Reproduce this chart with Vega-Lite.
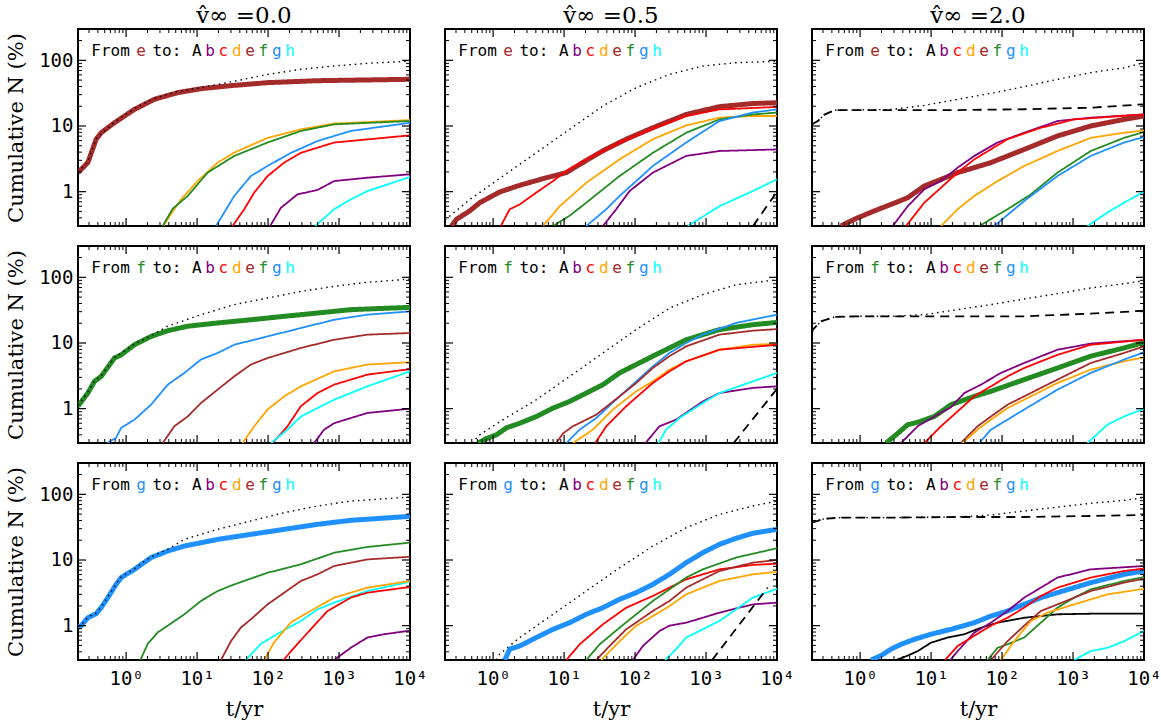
{
"$schema": "https://vega.github.io/schema/vega-lite/v6.json",
"background": "white",
"padding": {"left": 4, "top": 4, "right": 0, "bottom": 0},
"autosize": {"type": "pad"},
"config": {
  "view": {"stroke": "black", "strokeWidth": 2},
  "axis": {"domain": false, "grid": false, "ticks": false, "labelFont": "DejaVu Sans Mono", "labelFontSize": 19, "labelColor": "black", "titleFont": "DejaVu Serif", "titleFontSize": 21, "titleFontWeight": "normal", "titleColor": "black", "labelFlush": false, "labelOverlap": false},
  "title": {"font": "DejaVu Serif", "fontSize": 23, "fontWeight": "normal", "color": "black", "offset": 1}
},
"datasets": {
"xM": [{"v":1},{"v":10},{"v":100},{"v":1000},{"v":10000}],
"xm": [{"v":0.3},{"v":0.4},{"v":0.5},{"v":0.6},{"v":0.7},{"v":0.8},{"v":0.9},{"v":2},{"v":3},{"v":4},{"v":5},{"v":6},{"v":7},{"v":8},{"v":9},{"v":20},{"v":30},{"v":40},{"v":50},{"v":60},{"v":70},{"v":80},{"v":90},{"v":200},{"v":300},{"v":400},{"v":500},{"v":600},{"v":700},{"v":800},{"v":900},{"v":2000},{"v":3000},{"v":4000},{"v":5000},{"v":6000},{"v":7000},{"v":8000},{"v":9000}],
"yM": [{"v":1},{"v":10},{"v":100}],
"ym": [{"v":0.4},{"v":0.5},{"v":0.6},{"v":0.7},{"v":0.8},{"v":0.9},{"v":2},{"v":3},{"v":4},{"v":5},{"v":6},{"v":7},{"v":8},{"v":9},{"v":20},{"v":30},{"v":40},{"v":50},{"v":60},{"v":70},{"v":80},{"v":90},{"v":200}],
"notes": [
{"r":"e","lab":"From","s":"A","t":0.605,"n":140},{"r":"e","lab":"e","s":"e","t":1.626,"n":140},{"r":"e","lab":"to:","s":"A","t":3.753,"n":140},{"r":"e","lab":"A","s":"A","t":9.92,"n":140},{"r":"e","lab":"b","s":"b","t":15.28,"n":140},{"r":"e","lab":"c","s":"c","t":23.5,"n":140},{"r":"e","lab":"d","s":"d","t":36.2,"n":140},{"r":"e","lab":"e","s":"e","t":55.8,"n":140},{"r":"e","lab":"f","s":"f","t":85.9,"n":140},{"r":"e","lab":"g","s":"g","t":132.4,"n":140},{"r":"e","lab":"h","s":"h","t":204,"n":140},
{"r":"f","lab":"From","s":"A","t":0.605,"n":140},{"r":"f","lab":"f","s":"f","t":1.626,"n":140},{"r":"f","lab":"to:","s":"A","t":3.753,"n":140},{"r":"f","lab":"A","s":"A","t":9.92,"n":140},{"r":"f","lab":"b","s":"b","t":15.28,"n":140},{"r":"f","lab":"c","s":"c","t":23.5,"n":140},{"r":"f","lab":"d","s":"d","t":36.2,"n":140},{"r":"f","lab":"e","s":"e","t":55.8,"n":140},{"r":"f","lab":"f","s":"f","t":85.9,"n":140},{"r":"f","lab":"g","s":"g","t":132.4,"n":140},{"r":"f","lab":"h","s":"h","t":204,"n":140},
{"r":"g","lab":"From","s":"A","t":0.605,"n":140},{"r":"g","lab":"g","s":"g","t":1.626,"n":140},{"r":"g","lab":"to:","s":"A","t":3.753,"n":140},{"r":"g","lab":"A","s":"A","t":9.92,"n":140},{"r":"g","lab":"b","s":"b","t":15.28,"n":140},{"r":"g","lab":"c","s":"c","t":23.5,"n":140},{"r":"g","lab":"d","s":"d","t":36.2,"n":140},{"r":"g","lab":"e","s":"e","t":55.8,"n":140},{"r":"g","lab":"f","s":"f","t":85.9,"n":140},{"r":"g","lab":"g","s":"g","t":132.4,"n":140},{"r":"g","lab":"h","s":"h","t":204,"n":140}
],
"lines": [
{"r":"e","c":"0.0","s":"e","t":0.21,"n":1.95},{"r":"e","c":"0.0","s":"e","t":0.289,"n":2.77},{"r":"e","c":"0.0","s":"e","t":0.378,"n":6.27},{"r":"e","c":"0.0","s":"e","t":0.445,"n":7.9},{"r":"e","c":"0.0","s":"e","t":0.685,"n":11.2},{"r":"e","c":"0.0","s":"e","t":1.31,"n":17.9},{"r":"e","c":"0.0","s":"e","t":2.5,"n":25.5},{"r":"e","c":"0.0","s":"e","t":5.33,"n":32.2},{"r":"e","c":"0.0","s":"e","t":11.35,"n":37},{"r":"e","c":"0.0","s":"e","t":33.4,"n":41.6},{"r":"e","c":"0.0","s":"e","t":98.4,"n":45.7},{"r":"e","c":"0.0","s":"e","t":497,"n":49},{"r":"e","c":"0.0","s":"e","t":10000,"n":51.4},
{"r":"e","c":"0.0","s":"tot","t":0.21,"n":2.0},{"r":"e","c":"0.0","s":"tot","t":0.289,"n":2.85},{"r":"e","c":"0.0","s":"tot","t":0.378,"n":6.4},{"r":"e","c":"0.0","s":"tot","t":0.685,"n":11.5},{"r":"e","c":"0.0","s":"tot","t":1.31,"n":18.4},{"r":"e","c":"0.0","s":"tot","t":2.5,"n":26.3},{"r":"e","c":"0.0","s":"tot","t":5.33,"n":33.5},{"r":"e","c":"0.0","s":"tot","t":10.2,"n":37.5},{"r":"e","c":"0.0","s":"tot","t":33.4,"n":48},{"r":"e","c":"0.0","s":"tot","t":98.4,"n":61},{"r":"e","c":"0.0","s":"tot","t":290,"n":73},{"r":"e","c":"0.0","s":"tot","t":853,"n":82},{"r":"e","c":"0.0","s":"tot","t":2510,"n":90},{"r":"e","c":"0.0","s":"tot","t":10000,"n":97},
{"r":"e","c":"0.0","s":"d","t":3.35,"n":0.3},{"r":"e","c":"0.0","s":"d","t":4.53,"n":0.5},{"r":"e","c":"0.0","s":"d","t":5.94,"n":0.76},{"r":"e","c":"0.0","s":"d","t":10.2,"n":1.45},{"r":"e","c":"0.0","s":"d","t":19.5,"n":2.77},{"r":"e","c":"0.0","s":"d","t":33.4,"n":3.93},{"r":"e","c":"0.0","s":"d","t":98.4,"n":6.6},{"r":"e","c":"0.0","s":"d","t":290,"n":8.9},{"r":"e","c":"0.0","s":"d","t":853,"n":10.9},{"r":"e","c":"0.0","s":"d","t":10000,"n":12.3},
{"r":"e","c":"0.0","s":"f","t":3.28,"n":0.3},{"r":"e","c":"0.0","s":"f","t":4.53,"n":0.55},{"r":"e","c":"0.0","s":"f","t":7.37,"n":0.86},{"r":"e","c":"0.0","s":"f","t":14.1,"n":1.95},{"r":"e","c":"0.0","s":"f","t":33.4,"n":3.5},{"r":"e","c":"0.0","s":"f","t":98.4,"n":5.6},{"r":"e","c":"0.0","s":"f","t":290,"n":8.4},{"r":"e","c":"0.0","s":"f","t":853,"n":10.6},{"r":"e","c":"0.0","s":"f","t":10000,"n":11.9},
{"r":"e","c":"0.0","s":"g","t":18.5,"n":0.3},{"r":"e","c":"0.0","s":"g","t":33.4,"n":0.86},{"r":"e","c":"0.0","s":"g","t":57.3,"n":1.73},{"r":"e","c":"0.0","s":"g","t":98.4,"n":2.46},{"r":"e","c":"0.0","s":"g","t":210,"n":3.9},{"r":"e","c":"0.0","s":"g","t":497,"n":5.9},{"r":"e","c":"0.0","s":"g","t":1463,"n":8.4},{"r":"e","c":"0.0","s":"g","t":10000,"n":11.2},
{"r":"e","c":"0.0","s":"c","t":31.7,"n":0.3},{"r":"e","c":"0.0","s":"c","t":46.2,"n":0.54},{"r":"e","c":"0.0","s":"c","t":63.9,"n":0.97},{"r":"e","c":"0.0","s":"c","t":98.4,"n":1.73},{"r":"e","c":"0.0","s":"c","t":169,"n":2.77},{"r":"e","c":"0.0","s":"c","t":290,"n":3.9},{"r":"e","c":"0.0","s":"c","t":853,"n":5.6},{"r":"e","c":"0.0","s":"c","t":10000,"n":7.2},
{"r":"e","c":"0.0","s":"b","t":107,"n":0.3},{"r":"e","c":"0.0","s":"b","t":152,"n":0.57},{"r":"e","c":"0.0","s":"b","t":260,"n":0.91},{"r":"e","c":"0.0","s":"b","t":497,"n":1.06},{"r":"e","c":"0.0","s":"b","t":853,"n":1.45},{"r":"e","c":"0.0","s":"b","t":2510,"n":1.63},{"r":"e","c":"0.0","s":"b","t":10000,"n":1.84},
{"r":"e","c":"0.0","s":"h","t":461,"n":0.3},{"r":"e","c":"0.0","s":"h","t":853,"n":0.54},{"r":"e","c":"0.0","s":"h","t":1463,"n":0.76},{"r":"e","c":"0.0","s":"h","t":2510,"n":1.02},{"r":"e","c":"0.0","s":"h","t":10000,"n":1.67},

{"r":"e","c":"0.5","s":"tot","t":0.21,"n":0.37},{"r":"e","c":"0.5","s":"tot","t":0.4695,"n":0.76},{"r":"e","c":"0.5","s":"tot","t":1.382,"n":1.73},{"r":"e","c":"0.5","s":"tot","t":4.07,"n":3.93},{"r":"e","c":"0.5","s":"tot","t":11.98,"n":8.9},{"r":"e","c":"0.5","s":"tot","t":35.3,"n":20.2},{"r":"e","c":"0.5","s":"tot","t":103.8,"n":38.4},{"r":"e","c":"0.5","s":"tot","t":305.7,"n":61},{"r":"e","c":"0.5","s":"tot","t":900,"n":82},{"r":"e","c":"0.5","s":"tot","t":2650,"n":92},{"r":"e","c":"0.5","s":"tot","t":10000,"n":97},
{"r":"e","c":"0.5","s":"e","t":0.2594,"n":0.3},{"r":"e","c":"0.5","s":"e","t":0.305,"n":0.38},{"r":"e","c":"0.5","s":"e","t":0.4695,"n":0.51},{"r":"e","c":"0.5","s":"e","t":0.649,"n":0.68},{"r":"e","c":"0.5","s":"e","t":1.241,"n":0.99},{"r":"e","c":"0.5","s":"e","t":2.372,"n":1.25},{"r":"e","c":"0.5","s":"e","t":5.63,"n":1.63},{"r":"e","c":"0.5","s":"e","t":10.76,"n":1.95},{"r":"e","c":"0.5","s":"e","t":16.57,"n":2.6},{"r":"e","c":"0.5","s":"e","t":35.3,"n":4.2},{"r":"e","c":"0.5","s":"e","t":75.1,"n":6.3},{"r":"e","c":"0.5","s":"e","t":178,"n":9.4},{"r":"e","c":"0.5","s":"e","t":525,"n":15},{"r":"e","c":"0.5","s":"e","t":1545,"n":19.7},{"r":"e","c":"0.5","s":"e","t":4547,"n":22},{"r":"e","c":"0.5","s":"e","t":10000,"n":22.6},
{"r":"e","c":"0.5","s":"c","t":1.282,"n":0.3},{"r":"e","c":"0.5","s":"c","t":1.716,"n":0.54},{"r":"e","c":"0.5","s":"c","t":2.372,"n":0.64},{"r":"e","c":"0.5","s":"c","t":4.07,"n":0.97},{"r":"e","c":"0.5","s":"c","t":6.98,"n":1.45},{"r":"e","c":"0.5","s":"c","t":10.76,"n":2.07},{"r":"e","c":"0.5","s":"c","t":20.56,"n":3.1},{"r":"e","c":"0.5","s":"c","t":60.5,"n":5.6},{"r":"e","c":"0.5","s":"c","t":178,"n":9.2},{"r":"e","c":"0.5","s":"c","t":525,"n":14.2},{"r":"e","c":"0.5","s":"c","t":1545,"n":17.9},{"r":"e","c":"0.5","s":"c","t":10000,"n":19.5},
{"r":"e","c":"0.5","s":"d","t":5.05,"n":0.3},{"r":"e","c":"0.5","s":"d","t":8.67,"n":0.6},{"r":"e","c":"0.5","s":"d","t":20.56,"n":1.37},{"r":"e","c":"0.5","s":"d","t":60.5,"n":3.1},{"r":"e","c":"0.5","s":"d","t":178,"n":6.3},{"r":"e","c":"0.5","s":"d","t":525,"n":10.2},{"r":"e","c":"0.5","s":"d","t":1545,"n":13.4},{"r":"e","c":"0.5","s":"d","t":4547,"n":14.2},{"r":"e","c":"0.5","s":"d","t":10000,"n":14.2},
{"r":"e","c":"0.5","s":"f","t":6.98,"n":0.3},{"r":"e","c":"0.5","s":"f","t":11.98,"n":0.43},{"r":"e","c":"0.5","s":"f","t":20.56,"n":0.68},{"r":"e","c":"0.5","s":"f","t":60.5,"n":1.73},{"r":"e","c":"0.5","s":"f","t":178,"n":3.9},{"r":"e","c":"0.5","s":"f","t":525,"n":7.9},{"r":"e","c":"0.5","s":"f","t":1545,"n":12.6},{"r":"e","c":"0.5","s":"f","t":4547,"n":15},{"r":"e","c":"0.5","s":"f","t":10000,"n":16},
{"r":"e","c":"0.5","s":"g","t":20.56,"n":0.3},{"r":"e","c":"0.5","s":"g","t":39.3,"n":0.54},{"r":"e","c":"0.5","s":"g","t":60.5,"n":0.86},{"r":"e","c":"0.5","s":"g","t":103.8,"n":1.45},{"r":"e","c":"0.5","s":"g","t":178,"n":2.46},{"r":"e","c":"0.5","s":"g","t":525,"n":5.6},{"r":"e","c":"0.5","s":"g","t":1545,"n":11.9},{"r":"e","c":"0.5","s":"g","t":4547,"n":16},{"r":"e","c":"0.5","s":"g","t":10000,"n":17.9},
{"r":"e","c":"0.5","s":"b","t":35.3,"n":0.3},{"r":"e","c":"0.5","s":"b","t":54.3,"n":0.54},{"r":"e","c":"0.5","s":"b","t":83.7,"n":1.02},{"r":"e","c":"0.5","s":"b","t":178,"n":1.95},{"r":"e","c":"0.5","s":"b","t":525,"n":3.5},{"r":"e","c":"0.5","s":"b","t":1545,"n":4.16},{"r":"e","c":"0.5","s":"b","t":10000,"n":4.4},
{"r":"e","c":"0.5","s":"h","t":553.8,"n":0.3},{"r":"e","c":"0.5","s":"h","t":1545,"n":0.6},{"r":"e","c":"0.5","s":"h","t":4547,"n":1.02},{"r":"e","c":"0.5","s":"h","t":10000,"n":1.54},
{"r":"e","c":"0.5","s":"dash","t":4590,"n":0.3},{"r":"e","c":"0.5","s":"dash","t":10000,"n":1.0},

{"r":"e","c":"2.0","s":"tot","t":0.21,"n":10.6},{"r":"e","c":"2.0","s":"tot","t":0.2538,"n":11.9},{"r":"e","c":"2.0","s":"tot","t":0.3148,"n":14.9},{"r":"e","c":"2.0","s":"tot","t":0.4355,"n":17.4},{"r":"e","c":"2.0","s":"tot","t":0.927,"n":17.6},{"r":"e","c":"2.0","s":"tot","t":2.73,"n":17.8},{"r":"e","c":"2.0","s":"tot","t":8.035,"n":20.6},{"r":"e","c":"2.0","s":"tot","t":23.66,"n":25.5},{"r":"e","c":"2.0","s":"tot","t":69.7,"n":31.4},{"r":"e","c":"2.0","s":"tot","t":205,"n":39.7},{"r":"e","c":"2.0","s":"tot","t":604,"n":51.4},{"r":"e","c":"2.0","s":"tot","t":1777,"n":65},{"r":"e","c":"2.0","s":"tot","t":5231,"n":77},{"r":"e","c":"2.0","s":"tot","t":10000,"n":92},
{"r":"e","c":"2.0","s":"dash","t":0.21,"n":10.6},{"r":"e","c":"2.0","s":"dash","t":0.2538,"n":11.9},{"r":"e","c":"2.0","s":"dash","t":0.3148,"n":14.9},{"r":"e","c":"2.0","s":"dash","t":0.4355,"n":17.4},{"r":"e","c":"2.0","s":"dash","t":2.73,"n":17.5},{"r":"e","c":"2.0","s":"dash","t":23.66,"n":17.5},{"r":"e","c":"2.0","s":"dash","t":205,"n":18},{"r":"e","c":"2.0","s":"dash","t":1777,"n":19},{"r":"e","c":"2.0","s":"dash","t":10000,"n":21.4},
{"r":"e","c":"2.0","s":"e","t":0.54,"n":0.3},{"r":"e","c":"2.0","s":"e","t":0.6706,"n":0.34},{"r":"e","c":"2.0","s":"e","t":0.927,"n":0.4},{"r":"e","c":"2.0","s":"e","t":1.591,"n":0.51},{"r":"e","c":"2.0","s":"e","t":2.73,"n":0.64},{"r":"e","c":"2.0","s":"e","t":4.684,"n":0.81},{"r":"e","c":"2.0","s":"e","t":8.035,"n":1.22},{"r":"e","c":"2.0","s":"e","t":13.79,"n":1.54},{"r":"e","c":"2.0","s":"e","t":23.66,"n":1.95},{"r":"e","c":"2.0","s":"e","t":69.7,"n":2.77},{"r":"e","c":"2.0","s":"e","t":205,"n":4.4},{"r":"e","c":"2.0","s":"e","t":604,"n":7.05},{"r":"e","c":"2.0","s":"e","t":1777,"n":10},{"r":"e","c":"2.0","s":"e","t":5231,"n":12.6},{"r":"e","c":"2.0","s":"e","t":10000,"n":14.2},
{"r":"e","c":"2.0","s":"b","t":2.881,"n":0.3},{"r":"e","c":"2.0","s":"b","t":4.684,"n":0.6},{"r":"e","c":"2.0","s":"b","t":8.035,"n":1.09},{"r":"e","c":"2.0","s":"b","t":13.79,"n":1.45},{"r":"e","c":"2.0","s":"b","t":23.66,"n":2.32},{"r":"e","c":"2.0","s":"b","t":40.6,"n":3.5},{"r":"e","c":"2.0","s":"b","t":86.4,"n":5.6},{"r":"e","c":"2.0","s":"b","t":205,"n":7.9},{"r":"e","c":"2.0","s":"b","t":604,"n":11.9},{"r":"e","c":"2.0","s":"b","t":1777,"n":13.4},{"r":"e","c":"2.0","s":"b","t":10000,"n":15},
{"r":"e","c":"2.0","s":"c","t":4.437,"n":0.3},{"r":"e","c":"2.0","s":"c","t":8.035,"n":0.68},{"r":"e","c":"2.0","s":"c","t":13.79,"n":1.15},{"r":"e","c":"2.0","s":"c","t":23.66,"n":1.95},{"r":"e","c":"2.0","s":"c","t":40.6,"n":3.1},{"r":"e","c":"2.0","s":"c","t":119.5,"n":6.3},{"r":"e","c":"2.0","s":"c","t":351.8,"n":9.4},{"r":"e","c":"2.0","s":"c","t":1036,"n":12.6},{"r":"e","c":"2.0","s":"c","t":10000,"n":15},
{"r":"e","c":"2.0","s":"d","t":13.79,"n":0.3},{"r":"e","c":"2.0","s":"d","t":23.66,"n":0.54},{"r":"e","c":"2.0","s":"d","t":40.6,"n":0.86},{"r":"e","c":"2.0","s":"d","t":86.4,"n":1.45},{"r":"e","c":"2.0","s":"d","t":205,"n":2.46},{"r":"e","c":"2.0","s":"d","t":604,"n":4.16},{"r":"e","c":"2.0","s":"d","t":1777,"n":6.6},{"r":"e","c":"2.0","s":"d","t":5231,"n":7.9},{"r":"e","c":"2.0","s":"d","t":10000,"n":8.6},
{"r":"e","c":"2.0","s":"f","t":47.7,"n":0.3},{"r":"e","c":"2.0","s":"f","t":119.5,"n":0.54},{"r":"e","c":"2.0","s":"f","t":254.4,"n":0.91},{"r":"e","c":"2.0","s":"f","t":604,"n":1.95},{"r":"e","c":"2.0","s":"f","t":1777,"n":4.16},{"r":"e","c":"2.0","s":"f","t":5231,"n":6.6},{"r":"e","c":"2.0","s":"f","t":10000,"n":8.1},
{"r":"e","c":"2.0","s":"g","t":77.6,"n":0.3},{"r":"e","c":"2.0","s":"g","t":205,"n":0.72},{"r":"e","c":"2.0","s":"g","t":604,"n":1.73},{"r":"e","c":"2.0","s":"g","t":1777,"n":3.5},{"r":"e","c":"2.0","s":"g","t":5231,"n":5.6},{"r":"e","c":"2.0","s":"g","t":10000,"n":6.8},
{"r":"e","c":"2.0","s":"h","t":1595,"n":0.3},{"r":"e","c":"2.0","s":"h","t":3050,"n":0.48},{"r":"e","c":"2.0","s":"h","t":5231,"n":0.68},{"r":"e","c":"2.0","s":"h","t":10000,"n":1.0},

{"r":"f","c":"0.0","s":"f","t":0.21,"n":1.09},{"r":"f","c":"0.0","s":"f","t":0.289,"n":1.73},{"r":"f","c":"0.0","s":"f","t":0.3585,"n":2.6},{"r":"f","c":"0.0","s":"f","t":0.445,"n":3.1},{"r":"f","c":"0.0","s":"f","t":0.685,"n":5.9},{"r":"f","c":"0.0","s":"f","t":0.851,"n":6.6},{"r":"f","c":"0.0","s":"f","t":1.31,"n":9.4},{"r":"f","c":"0.0","s":"f","t":2.25,"n":12.6},{"r":"f","c":"0.0","s":"f","t":3.86,"n":15.4},{"r":"f","c":"0.0","s":"f","t":7.37,"n":18},{"r":"f","c":"0.0","s":"f","t":19.5,"n":20.2},{"r":"f","c":"0.0","s":"f","t":57.3,"n":22.6},{"r":"f","c":"0.0","s":"f","t":169,"n":25.5},{"r":"f","c":"0.0","s":"f","t":497,"n":28.6},{"r":"f","c":"0.0","s":"f","t":1463,"n":32.2},{"r":"f","c":"0.0","s":"f","t":10000,"n":34.9},
{"r":"f","c":"0.0","s":"tot","t":0.21,"n":1.12},{"r":"f","c":"0.0","s":"tot","t":0.289,"n":1.78},{"r":"f","c":"0.0","s":"tot","t":0.3585,"n":2.65},{"r":"f","c":"0.0","s":"tot","t":0.445,"n":3.15},{"r":"f","c":"0.0","s":"tot","t":0.685,"n":6.0},{"r":"f","c":"0.0","s":"tot","t":1.31,"n":9.6},{"r":"f","c":"0.0","s":"tot","t":2.25,"n":13},{"r":"f","c":"0.0","s":"tot","t":3.86,"n":18},{"r":"f","c":"0.0","s":"tot","t":11.35,"n":27},{"r":"f","c":"0.0","s":"tot","t":33.4,"n":38.4},{"r":"f","c":"0.0","s":"tot","t":98.4,"n":48.4},{"r":"f","c":"0.0","s":"tot","t":290,"n":61},{"r":"f","c":"0.0","s":"tot","t":853,"n":73},{"r":"f","c":"0.0","s":"tot","t":2510,"n":84},{"r":"f","c":"0.0","s":"tot","t":10000,"n":94},
{"r":"f","c":"0.0","s":"g","t":0.541,"n":0.3},{"r":"f","c":"0.0","s":"g","t":0.723,"n":0.36},{"r":"f","c":"0.0","s":"g","t":0.851,"n":0.51},{"r":"f","c":"0.0","s":"g","t":1.31,"n":0.68},{"r":"f","c":"0.0","s":"g","t":2.25,"n":1.15},{"r":"f","c":"0.0","s":"g","t":3.86,"n":2.32},{"r":"f","c":"0.0","s":"g","t":6.62,"n":3.5},{"r":"f","c":"0.0","s":"g","t":11.35,"n":5.6},{"r":"f","c":"0.0","s":"g","t":19.5,"n":7.05},{"r":"f","c":"0.0","s":"g","t":33.4,"n":9.4},{"r":"f","c":"0.0","s":"g","t":98.4,"n":12.6},{"r":"f","c":"0.0","s":"g","t":290,"n":16.9},{"r":"f","c":"0.0","s":"g","t":853,"n":22.6},{"r":"f","c":"0.0","s":"g","t":2510,"n":27},{"r":"f","c":"0.0","s":"g","t":10000,"n":30.3},
{"r":"f","c":"0.0","s":"e","t":3.28,"n":0.3},{"r":"f","c":"0.0","s":"e","t":4.79,"n":0.54},{"r":"f","c":"0.0","s":"e","t":7.37,"n":0.76},{"r":"f","c":"0.0","s":"e","t":11.35,"n":1.22},{"r":"f","c":"0.0","s":"e","t":19.5,"n":1.95},{"r":"f","c":"0.0","s":"e","t":33.4,"n":3.1},{"r":"f","c":"0.0","s":"e","t":57.3,"n":4.7},{"r":"f","c":"0.0","s":"e","t":98.4,"n":5.9},{"r":"f","c":"0.0","s":"e","t":290,"n":8.4},{"r":"f","c":"0.0","s":"e","t":853,"n":11.2},{"r":"f","c":"0.0","s":"e","t":2510,"n":13.4},{"r":"f","c":"0.0","s":"e","t":10000,"n":14.2},
{"r":"f","c":"0.0","s":"d","t":43.8,"n":0.3},{"r":"f","c":"0.0","s":"d","t":63.9,"n":0.54},{"r":"f","c":"0.0","s":"d","t":98.4,"n":0.97},{"r":"f","c":"0.0","s":"d","t":169,"n":1.54},{"r":"f","c":"0.0","s":"d","t":290,"n":2.19},{"r":"f","c":"0.0","s":"d","t":853,"n":3.7},{"r":"f","c":"0.0","s":"d","t":2510,"n":4.7},{"r":"f","c":"0.0","s":"d","t":10000,"n":5.1},
{"r":"f","c":"0.0","s":"c","t":116,"n":0.3},{"r":"f","c":"0.0","s":"c","t":188,"n":0.54},{"r":"f","c":"0.0","s":"c","t":290,"n":1.09},{"r":"f","c":"0.0","s":"c","t":497,"n":1.73},{"r":"f","c":"0.0","s":"c","t":853,"n":2.32},{"r":"f","c":"0.0","s":"c","t":2510,"n":3.3},{"r":"f","c":"0.0","s":"c","t":10000,"n":4.0},
{"r":"f","c":"0.0","s":"h","t":110,"n":0.3},{"r":"f","c":"0.0","s":"h","t":188,"n":0.48},{"r":"f","c":"0.0","s":"h","t":290,"n":0.76},{"r":"f","c":"0.0","s":"h","t":853,"n":1.37},{"r":"f","c":"0.0","s":"h","t":2510,"n":2.19},{"r":"f","c":"0.0","s":"h","t":10000,"n":3.7},
{"r":"f","c":"0.0","s":"b","t":446,"n":0.3},{"r":"f","c":"0.0","s":"b","t":617,"n":0.48},{"r":"f","c":"0.0","s":"b","t":853,"n":0.6},{"r":"f","c":"0.0","s":"b","t":1463,"n":0.72},{"r":"f","c":"0.0","s":"b","t":2510,"n":0.86},{"r":"f","c":"0.0","s":"b","t":10000,"n":1.0},

{"r":"f","c":"0.5","s":"f","t":0.615,"n":0.3},{"r":"f","c":"0.5","s":"f","t":0.806,"n":0.35},{"r":"f","c":"0.5","s":"f","t":1.114,"n":0.4},{"r":"f","c":"0.5","s":"f","t":1.54,"n":0.51},{"r":"f","c":"0.5","s":"f","t":2.372,"n":0.6},{"r":"f","c":"0.5","s":"f","t":4.07,"n":0.76},{"r":"f","c":"0.5","s":"f","t":6.98,"n":1.02},{"r":"f","c":"0.5","s":"f","t":11.98,"n":1.29},{"r":"f","c":"0.5","s":"f","t":20.56,"n":1.73},{"r":"f","c":"0.5","s":"f","t":35.3,"n":2.32},{"r":"f","c":"0.5","s":"f","t":60.5,"n":3.5},{"r":"f","c":"0.5","s":"f","t":103.8,"n":4.7},{"r":"f","c":"0.5","s":"f","t":178,"n":6.3},{"r":"f","c":"0.5","s":"f","t":305.7,"n":8.4},{"r":"f","c":"0.5","s":"f","t":524.7,"n":11.2},{"r":"f","c":"0.5","s":"f","t":1545,"n":16},{"r":"f","c":"0.5","s":"f","t":4547,"n":19},{"r":"f","c":"0.5","s":"f","t":10000,"n":20.6},
{"r":"f","c":"0.5","s":"tot","t":0.5,"n":0.3},{"r":"f","c":"0.5","s":"tot","t":0.649,"n":0.4},{"r":"f","c":"0.5","s":"tot","t":1.382,"n":0.68},{"r":"f","c":"0.5","s":"tot","t":4.07,"n":1.37},{"r":"f","c":"0.5","s":"tot","t":11.98,"n":3.1},{"r":"f","c":"0.5","s":"tot","t":35.3,"n":7.05},{"r":"f","c":"0.5","s":"tot","t":103.8,"n":16},{"r":"f","c":"0.5","s":"tot","t":305.7,"n":34},{"r":"f","c":"0.5","s":"tot","t":900,"n":54.5},{"r":"f","c":"0.5","s":"tot","t":2650,"n":77},{"r":"f","c":"0.5","s":"tot","t":10000,"n":92},
{"r":"f","c":"0.5","s":"g","t":10.76,"n":0.3},{"r":"f","c":"0.5","s":"g","t":16.57,"n":0.48},{"r":"f","c":"0.5","s":"g","t":28.4,"n":0.72},{"r":"f","c":"0.5","s":"g","t":60.5,"n":1.54},{"r":"f","c":"0.5","s":"g","t":103.8,"n":2.6},{"r":"f","c":"0.5","s":"g","t":178,"n":4.4},{"r":"f","c":"0.5","s":"g","t":305.7,"n":7.05},{"r":"f","c":"0.5","s":"g","t":524.7,"n":10},{"r":"f","c":"0.5","s":"g","t":900,"n":13.4},{"r":"f","c":"0.5","s":"g","t":2650,"n":20.2},{"r":"f","c":"0.5","s":"g","t":10000,"n":27},
{"r":"f","c":"0.5","s":"e","t":7.78,"n":0.3},{"r":"f","c":"0.5","s":"e","t":9.66,"n":0.42},{"r":"f","c":"0.5","s":"e","t":13.35,"n":0.54},{"r":"f","c":"0.5","s":"e","t":18.46,"n":0.64},{"r":"f","c":"0.5","s":"e","t":28.4,"n":0.81},{"r":"f","c":"0.5","s":"e","t":60.5,"n":1.54},{"r":"f","c":"0.5","s":"e","t":103.8,"n":2.46},{"r":"f","c":"0.5","s":"e","t":178,"n":4.16},{"r":"f","c":"0.5","s":"e","t":305.7,"n":6.3},{"r":"f","c":"0.5","s":"e","t":524.7,"n":8.9},{"r":"f","c":"0.5","s":"e","t":1545,"n":13.4},{"r":"f","c":"0.5","s":"e","t":4547,"n":15.4},{"r":"f","c":"0.5","s":"e","t":10000,"n":16.3},
{"r":"f","c":"0.5","s":"d","t":13.35,"n":0.3},{"r":"f","c":"0.5","s":"d","t":25.5,"n":0.48},{"r":"f","c":"0.5","s":"d","t":48.8,"n":0.97},{"r":"f","c":"0.5","s":"d","t":103.8,"n":1.84},{"r":"f","c":"0.5","s":"d","t":178,"n":2.6},{"r":"f","c":"0.5","s":"d","t":305.7,"n":3.93},{"r":"f","c":"0.5","s":"d","t":524.7,"n":5.26},{"r":"f","c":"0.5","s":"d","t":1545,"n":7.9},{"r":"f","c":"0.5","s":"d","t":4547,"n":9.4},{"r":"f","c":"0.5","s":"d","t":10000,"n":9.7},
{"r":"f","c":"0.5","s":"c","t":27.5,"n":0.3},{"r":"f","c":"0.5","s":"c","t":39.3,"n":0.54},{"r":"f","c":"0.5","s":"c","t":75.1,"n":1.09},{"r":"f","c":"0.5","s":"c","t":178,"n":2.46},{"r":"f","c":"0.5","s":"c","t":305.7,"n":3.7},{"r":"f","c":"0.5","s":"c","t":524.7,"n":5.26},{"r":"f","c":"0.5","s":"c","t":1545,"n":7.9},{"r":"f","c":"0.5","s":"c","t":10000,"n":9.4},
{"r":"f","c":"0.5","s":"b","t":140.5,"n":0.3},{"r":"f","c":"0.5","s":"b","t":221,"n":0.54},{"r":"f","c":"0.5","s":"b","t":379.5,"n":0.68},{"r":"f","c":"0.5","s":"b","t":900,"n":1.29},{"r":"f","c":"0.5","s":"b","t":1545,"n":1.73},{"r":"f","c":"0.5","s":"b","t":4547,"n":2.07},{"r":"f","c":"0.5","s":"b","t":10000,"n":2.19},
{"r":"f","c":"0.5","s":"h","t":214,"n":0.3},{"r":"f","c":"0.5","s":"h","t":274.5,"n":0.48},{"r":"f","c":"0.5","s":"h","t":422.7,"n":0.72},{"r":"f","c":"0.5","s":"h","t":900,"n":1.22},{"r":"f","c":"0.5","s":"h","t":1545,"n":1.73},{"r":"f","c":"0.5","s":"h","t":4547,"n":2.6},{"r":"f","c":"0.5","s":"h","t":10000,"n":3.5},
{"r":"f","c":"0.5","s":"dash","t":2449,"n":0.3},{"r":"f","c":"0.5","s":"dash","t":10000,"n":2.0},

{"r":"f","c":"2.0","s":"tot","t":0.21,"n":14.2},{"r":"f","c":"2.0","s":"tot","t":0.216,"n":16},{"r":"f","c":"2.0","s":"tot","t":0.2827,"n":21.4},{"r":"f","c":"2.0","s":"tot","t":0.4355,"n":24.9},{"r":"f","c":"2.0","s":"tot","t":0.927,"n":25.5},{"r":"f","c":"2.0","s":"tot","t":2.73,"n":25.5},{"r":"f","c":"2.0","s":"tot","t":8.035,"n":27},{"r":"f","c":"2.0","s":"tot","t":23.66,"n":32.2},{"r":"f","c":"2.0","s":"tot","t":69.7,"n":38.4},{"r":"f","c":"2.0","s":"tot","t":205,"n":46.8},{"r":"f","c":"2.0","s":"tot","t":604,"n":56.4},{"r":"f","c":"2.0","s":"tot","t":1777,"n":68.9},{"r":"f","c":"2.0","s":"tot","t":5231,"n":80},{"r":"f","c":"2.0","s":"tot","t":10000,"n":89},
{"r":"f","c":"2.0","s":"dash","t":0.21,"n":14.2},{"r":"f","c":"2.0","s":"dash","t":0.216,"n":16},{"r":"f","c":"2.0","s":"dash","t":0.2827,"n":21.4},{"r":"f","c":"2.0","s":"dash","t":0.4355,"n":24.9},{"r":"f","c":"2.0","s":"dash","t":0.927,"n":25.5},{"r":"f","c":"2.0","s":"dash","t":2.73,"n":25.5},{"r":"f","c":"2.0","s":"dash","t":23.66,"n":25.5},{"r":"f","c":"2.0","s":"dash","t":205,"n":25.5},{"r":"f","c":"2.0","s":"dash","t":1777,"n":28},{"r":"f","c":"2.0","s":"dash","t":10000,"n":31},
{"r":"f","c":"2.0","s":"f","t":2.322,"n":0.3},{"r":"f","c":"2.0","s":"f","t":3.388,"n":0.42},{"r":"f","c":"2.0","s":"f","t":4.684,"n":0.57},{"r":"f","c":"2.0","s":"f","t":6.476,"n":0.62},{"r":"f","c":"2.0","s":"f","t":11.11,"n":0.76},{"r":"f","c":"2.0","s":"f","t":19.06,"n":1.15},{"r":"f","c":"2.0","s":"f","t":40.6,"n":1.54},{"r":"f","c":"2.0","s":"f","t":69.7,"n":1.84},{"r":"f","c":"2.0","s":"f","t":205,"n":2.77},{"r":"f","c":"2.0","s":"f","t":604,"n":4.16},{"r":"f","c":"2.0","s":"f","t":1777,"n":6.3},{"r":"f","c":"2.0","s":"f","t":5231,"n":8.4},{"r":"f","c":"2.0","s":"f","t":10000,"n":10.2},
{"r":"f","c":"2.0","s":"b","t":3.774,"n":0.3},{"r":"f","c":"2.0","s":"b","t":6.476,"n":0.54},{"r":"f","c":"2.0","s":"b","t":11.11,"n":0.76},{"r":"f","c":"2.0","s":"b","t":19.06,"n":1.05},{"r":"f","c":"2.0","s":"b","t":29.37,"n":1.73},{"r":"f","c":"2.0","s":"b","t":50.4,"n":2.32},{"r":"f","c":"2.0","s":"b","t":96.3,"n":3.5},{"r":"f","c":"2.0","s":"b","t":205,"n":4.96},{"r":"f","c":"2.0","s":"b","t":604,"n":7.9},{"r":"f","c":"2.0","s":"b","t":1777,"n":9.8},{"r":"f","c":"2.0","s":"b","t":10000,"n":11.2},
{"r":"f","c":"2.0","s":"c","t":8.035,"n":0.3},{"r":"f","c":"2.0","s":"c","t":13.79,"n":0.54},{"r":"f","c":"2.0","s":"c","t":23.66,"n":0.91},{"r":"f","c":"2.0","s":"c","t":40.6,"n":1.54},{"r":"f","c":"2.0","s":"c","t":69.7,"n":2.19},{"r":"f","c":"2.0","s":"c","t":119.5,"n":3.1},{"r":"f","c":"2.0","s":"c","t":205,"n":4.16},{"r":"f","c":"2.0","s":"c","t":604,"n":6.6},{"r":"f","c":"2.0","s":"c","t":1777,"n":9.4},{"r":"f","c":"2.0","s":"c","t":10000,"n":11.2},
{"r":"f","c":"2.0","s":"e","t":26.36,"n":0.3},{"r":"f","c":"2.0","s":"e","t":45.2,"n":0.54},{"r":"f","c":"2.0","s":"e","t":69.7,"n":0.76},{"r":"f","c":"2.0","s":"e","t":119.5,"n":1.15},{"r":"f","c":"2.0","s":"e","t":205,"n":1.54},{"r":"f","c":"2.0","s":"e","t":351.8,"n":2.07},{"r":"f","c":"2.0","s":"e","t":604,"n":2.77},{"r":"f","c":"2.0","s":"e","t":1777,"n":4.96},{"r":"f","c":"2.0","s":"e","t":5231,"n":7.05},{"r":"f","c":"2.0","s":"e","t":10000,"n":8.9},
{"r":"f","c":"2.0","s":"d","t":27.82,"n":0.3},{"r":"f","c":"2.0","s":"d","t":45.2,"n":0.48},{"r":"f","c":"2.0","s":"d","t":69.7,"n":0.68},{"r":"f","c":"2.0","s":"d","t":119.5,"n":1.02},{"r":"f","c":"2.0","s":"d","t":205,"n":1.37},{"r":"f","c":"2.0","s":"d","t":604,"n":2.46},{"r":"f","c":"2.0","s":"d","t":1777,"n":3.93},{"r":"f","c":"2.0","s":"d","t":5231,"n":5.26},{"r":"f","c":"2.0","s":"d","t":10000,"n":6.05},
{"r":"f","c":"2.0","s":"g","t":47.7,"n":0.3},{"r":"f","c":"2.0","s":"g","t":69.7,"n":0.48},{"r":"f","c":"2.0","s":"g","t":119.5,"n":0.68},{"r":"f","c":"2.0","s":"g","t":205,"n":0.97},{"r":"f","c":"2.0","s":"g","t":604,"n":1.95},{"r":"f","c":"2.0","s":"g","t":1777,"n":3.5},{"r":"f","c":"2.0","s":"g","t":5231,"n":5.6},{"r":"f","c":"2.0","s":"g","t":10000,"n":7.2},
{"r":"f","c":"2.0","s":"h","t":1595,"n":0.3},{"r":"f","c":"2.0","s":"h","t":3050,"n":0.57},{"r":"f","c":"2.0","s":"h","t":5231,"n":0.76},{"r":"f","c":"2.0","s":"h","t":10000,"n":1.0},

{"r":"g","c":"0.0","s":"g","t":0.21,"n":0.95},{"r":"g","c":"0.0","s":"g","t":0.233,"n":1.0},{"r":"g","c":"0.0","s":"g","t":0.289,"n":1.32},{"r":"g","c":"0.0","s":"g","t":0.378,"n":1.52},{"r":"g","c":"0.0","s":"g","t":0.445,"n":1.88},{"r":"g","c":"0.0","s":"g","t":0.552,"n":2.67},{"r":"g","c":"0.0","s":"g","t":0.723,"n":4.25},{"r":"g","c":"0.0","s":"g","t":0.851,"n":5.4},{"r":"g","c":"0.0","s":"g","t":1.31,"n":7.2},{"r":"g","c":"0.0","s":"g","t":2.25,"n":10.9},{"r":"g","c":"0.0","s":"g","t":3.86,"n":13.7},{"r":"g","c":"0.0","s":"g","t":6.62,"n":16.3},{"r":"g","c":"0.0","s":"g","t":19.5,"n":20.6},{"r":"g","c":"0.0","s":"g","t":57.3,"n":24.6},{"r":"g","c":"0.0","s":"g","t":169,"n":29.3},{"r":"g","c":"0.0","s":"g","t":497,"n":34.9},{"r":"g","c":"0.0","s":"g","t":1463,"n":40.2},{"r":"g","c":"0.0","s":"g","t":10000,"n":46.2},
{"r":"g","c":"0.0","s":"tot","t":0.21,"n":0.97},{"r":"g","c":"0.0","s":"tot","t":0.233,"n":1.02},{"r":"g","c":"0.0","s":"tot","t":0.289,"n":1.35},{"r":"g","c":"0.0","s":"tot","t":0.378,"n":1.55},{"r":"g","c":"0.0","s":"tot","t":0.445,"n":1.92},{"r":"g","c":"0.0","s":"tot","t":0.552,"n":2.72},{"r":"g","c":"0.0","s":"tot","t":0.723,"n":4.35},{"r":"g","c":"0.0","s":"tot","t":0.851,"n":5.5},{"r":"g","c":"0.0","s":"tot","t":1.31,"n":7.4},{"r":"g","c":"0.0","s":"tot","t":2.25,"n":11.2},{"r":"g","c":"0.0","s":"tot","t":3.86,"n":14.5},{"r":"g","c":"0.0","s":"tot","t":6.62,"n":20.6},{"r":"g","c":"0.0","s":"tot","t":19.5,"n":29.3},{"r":"g","c":"0.0","s":"tot","t":57.3,"n":39.3},{"r":"g","c":"0.0","s":"tot","t":169,"n":52.6},{"r":"g","c":"0.0","s":"tot","t":497,"n":66.4},{"r":"g","c":"0.0","s":"tot","t":1463,"n":79},{"r":"g","c":"0.0","s":"tot","t":10000,"n":91},
{"r":"g","c":"0.0","s":"f","t":1.59,"n":0.3},{"r":"g","c":"0.0","s":"f","t":2.02,"n":0.53},{"r":"g","c":"0.0","s":"f","t":2.79,"n":0.79},{"r":"g","c":"0.0","s":"f","t":3.86,"n":1.0},{"r":"g","c":"0.0","s":"f","t":6.62,"n":1.49},{"r":"g","c":"0.0","s":"f","t":11.35,"n":2.38},{"r":"g","c":"0.0","s":"f","t":19.5,"n":3.37},{"r":"g","c":"0.0","s":"f","t":33.4,"n":4.25},{"r":"g","c":"0.0","s":"f","t":98.4,"n":6.4},{"r":"g","c":"0.0","s":"f","t":290,"n":8.6},{"r":"g","c":"0.0","s":"f","t":853,"n":12.9},{"r":"g","c":"0.0","s":"f","t":2510,"n":15.8},{"r":"g","c":"0.0","s":"f","t":10000,"n":18.4},
{"r":"g","c":"0.0","s":"e","t":21.7,"n":0.3},{"r":"g","c":"0.0","s":"e","t":30,"n":0.58},{"r":"g","c":"0.0","s":"e","t":41.5,"n":0.94},{"r":"g","c":"0.0","s":"e","t":57.3,"n":1.25},{"r":"g","c":"0.0","s":"e","t":98.4,"n":2.11},{"r":"g","c":"0.0","s":"e","t":169,"n":3.18},{"r":"g","c":"0.0","s":"e","t":290,"n":4.79},{"r":"g","c":"0.0","s":"e","t":497,"n":6.05},{"r":"g","c":"0.0","s":"e","t":853,"n":8.1},{"r":"g","c":"0.0","s":"e","t":2510,"n":10.2},{"r":"g","c":"0.0","s":"e","t":10000,"n":11.2},
{"r":"g","c":"0.0","s":"h","t":48.8,"n":0.3},{"r":"g","c":"0.0","s":"h","t":79.3,"n":0.53},{"r":"g","c":"0.0","s":"h","t":136,"n":0.75},{"r":"g","c":"0.0","s":"h","t":290,"n":1.18},{"r":"g","c":"0.0","s":"h","t":497,"n":1.77},{"r":"g","c":"0.0","s":"h","t":853,"n":2.24},{"r":"g","c":"0.0","s":"h","t":2510,"n":3.37},{"r":"g","c":"0.0","s":"h","t":10000,"n":4.68},
{"r":"g","c":"0.0","s":"d","t":88.3,"n":0.3},{"r":"g","c":"0.0","s":"d","t":122,"n":0.56},{"r":"g","c":"0.0","s":"d","t":210,"n":1.12},{"r":"g","c":"0.0","s":"d","t":360,"n":1.58},{"r":"g","c":"0.0","s":"d","t":853,"n":2.67},{"r":"g","c":"0.0","s":"d","t":2510,"n":3.79},{"r":"g","c":"0.0","s":"d","t":10000,"n":4.79},
{"r":"g","c":"0.0","s":"c","t":165,"n":0.3},{"r":"g","c":"0.0","s":"c","t":233,"n":0.46},{"r":"g","c":"0.0","s":"c","t":360,"n":0.78},{"r":"g","c":"0.0","s":"c","t":687,"n":1.67},{"r":"g","c":"0.0","s":"c","t":1463,"n":2.67},{"r":"g","c":"0.0","s":"c","t":2510,"n":3.18},{"r":"g","c":"0.0","s":"c","t":10000,"n":3.88},
{"r":"g","c":"0.0","s":"b","t":853,"n":0.3},{"r":"g","c":"0.0","s":"b","t":1463,"n":0.46},{"r":"g","c":"0.0","s":"b","t":2510,"n":0.66},{"r":"g","c":"0.0","s":"b","t":4306,"n":0.74},{"r":"g","c":"0.0","s":"b","t":10000,"n":0.84},

{"r":"g","c":"0.5","s":"tot","t":1.114,"n":0.3},{"r":"g","c":"0.5","s":"tot","t":1.241,"n":0.37},{"r":"g","c":"0.5","s":"tot","t":2.372,"n":0.66},{"r":"g","c":"0.5","s":"tot","t":6.98,"n":1.49},{"r":"g","c":"0.5","s":"tot","t":20.56,"n":3.37},{"r":"g","c":"0.5","s":"tot","t":60.5,"n":7.6},{"r":"g","c":"0.5","s":"tot","t":178,"n":16.3},{"r":"g","c":"0.5","s":"tot","t":525,"n":31},{"r":"g","c":"0.5","s":"tot","t":1545,"n":49.5},{"r":"g","c":"0.5","s":"tot","t":4547,"n":66.4},{"r":"g","c":"0.5","s":"tot","t":10000,"n":79},
{"r":"g","c":"0.5","s":"g","t":1.46,"n":0.3},{"r":"g","c":"0.5","s":"g","t":1.716,"n":0.44},{"r":"g","c":"0.5","s":"g","t":2.372,"n":0.49},{"r":"g","c":"0.5","s":"g","t":4.07,"n":0.66},{"r":"g","c":"0.5","s":"g","t":6.98,"n":0.88},{"r":"g","c":"0.5","s":"g","t":11.98,"n":1.11},{"r":"g","c":"0.5","s":"g","t":20.56,"n":1.49},{"r":"g","c":"0.5","s":"g","t":35.3,"n":1.88},{"r":"g","c":"0.5","s":"g","t":60.5,"n":2.52},{"r":"g","c":"0.5","s":"g","t":103.8,"n":3.18},{"r":"g","c":"0.5","s":"g","t":178,"n":4.25},{"r":"g","c":"0.5","s":"g","t":305.7,"n":6.05},{"r":"g","c":"0.5","s":"g","t":525,"n":9.1},{"r":"g","c":"0.5","s":"g","t":900,"n":12.9},{"r":"g","c":"0.5","s":"g","t":1545,"n":17.3},{"r":"g","c":"0.5","s":"g","t":2650,"n":21.4},{"r":"g","c":"0.5","s":"g","t":4547,"n":25.5},{"r":"g","c":"0.5","s":"g","t":10000,"n":29.3},
{"r":"g","c":"0.5","s":"c","t":10.76,"n":0.3},{"r":"g","c":"0.5","s":"c","t":16.57,"n":0.52},{"r":"g","c":"0.5","s":"c","t":35.3,"n":1.05},{"r":"g","c":"0.5","s":"c","t":75.1,"n":1.88},{"r":"g","c":"0.5","s":"c","t":178,"n":2.83},{"r":"g","c":"0.5","s":"c","t":305.7,"n":3.79},{"r":"g","c":"0.5","s":"c","t":525,"n":5.08},{"r":"g","c":"0.5","s":"c","t":1545,"n":7.2},{"r":"g","c":"0.5","s":"c","t":4547,"n":8.4},{"r":"g","c":"0.5","s":"c","t":10000,"n":8.8},
{"r":"g","c":"0.5","s":"f","t":20.56,"n":0.3},{"r":"g","c":"0.5","s":"f","t":31.7,"n":0.52},{"r":"g","c":"0.5","s":"f","t":60.5,"n":0.93},{"r":"g","c":"0.5","s":"f","t":103.8,"n":1.49},{"r":"g","c":"0.5","s":"f","t":178,"n":2.38},{"r":"g","c":"0.5","s":"f","t":305.7,"n":3.57},{"r":"g","c":"0.5","s":"f","t":525,"n":5.4},{"r":"g","c":"0.5","s":"f","t":900,"n":7.2},{"r":"g","c":"0.5","s":"f","t":2650,"n":10.9},{"r":"g","c":"0.5","s":"f","t":10000,"n":15.1},
{"r":"g","c":"0.5","s":"e","t":28.4,"n":0.3},{"r":"g","c":"0.5","s":"e","t":43.8,"n":0.49},{"r":"g","c":"0.5","s":"e","t":75.1,"n":0.88},{"r":"g","c":"0.5","s":"e","t":178,"n":1.67},{"r":"g","c":"0.5","s":"e","t":305.7,"n":2.38},{"r":"g","c":"0.5","s":"e","t":525,"n":3.79},{"r":"g","c":"0.5","s":"e","t":1545,"n":6.8},{"r":"g","c":"0.5","s":"e","t":4547,"n":9.1},{"r":"g","c":"0.5","s":"e","t":10000,"n":10},
{"r":"g","c":"0.5","s":"d","t":33.4,"n":0.3},{"r":"g","c":"0.5","s":"d","t":60.5,"n":0.58},{"r":"g","c":"0.5","s":"d","t":103.8,"n":1.0},{"r":"g","c":"0.5","s":"d","t":178,"n":1.4},{"r":"g","c":"0.5","s":"d","t":305.7,"n":1.99},{"r":"g","c":"0.5","s":"d","t":525,"n":3.0},{"r":"g","c":"0.5","s":"d","t":1545,"n":4.79},{"r":"g","c":"0.5","s":"d","t":4547,"n":6.05},{"r":"g","c":"0.5","s":"d","t":10000,"n":6.6},
{"r":"g","c":"0.5","s":"b","t":93.2,"n":0.3},{"r":"g","c":"0.5","s":"b","t":128.8,"n":0.49},{"r":"g","c":"0.5","s":"b","t":221,"n":0.83},{"r":"g","c":"0.5","s":"b","t":305.7,"n":1.0},{"r":"g","c":"0.5","s":"b","t":525,"n":1.11},{"r":"g","c":"0.5","s":"b","t":900,"n":1.32},{"r":"g","c":"0.5","s":"b","t":1545,"n":1.58},{"r":"g","c":"0.5","s":"b","t":4547,"n":2.11},{"r":"g","c":"0.5","s":"b","t":10000,"n":2.24},
{"r":"g","c":"0.5","s":"h","t":265.7,"n":0.3},{"r":"g","c":"0.5","s":"h","t":379.5,"n":0.44},{"r":"g","c":"0.5","s":"h","t":525,"n":0.66},{"r":"g","c":"0.5","s":"h","t":900,"n":0.88},{"r":"g","c":"0.5","s":"h","t":1545,"n":1.18},{"r":"g","c":"0.5","s":"h","t":2650,"n":1.77},{"r":"g","c":"0.5","s":"h","t":4547,"n":2.67},{"r":"g","c":"0.5","s":"h","t":10000,"n":3.65},
{"r":"g","c":"0.5","s":"dash","t":1218,"n":0.3},{"r":"g","c":"0.5","s":"dash","t":7391,"n":3.79},

{"r":"g","c":"2.0","s":"tot","t":0.21,"n":37},{"r":"g","c":"2.0","s":"tot","t":0.3148,"n":42.6},{"r":"g","c":"2.0","s":"tot","t":0.54,"n":44.2},{"r":"g","c":"2.0","s":"tot","t":2.73,"n":44.2},{"r":"g","c":"2.0","s":"tot","t":23.66,"n":45.2},{"r":"g","c":"2.0","s":"tot","t":69.7,"n":48.4},{"r":"g","c":"2.0","s":"tot","t":205,"n":55.7},{"r":"g","c":"2.0","s":"tot","t":604,"n":64},{"r":"g","c":"2.0","s":"tot","t":1777,"n":73},{"r":"g","c":"2.0","s":"tot","t":5231,"n":81},{"r":"g","c":"2.0","s":"tot","t":10000,"n":89},
{"r":"g","c":"2.0","s":"dash","t":0.21,"n":37},{"r":"g","c":"2.0","s":"dash","t":0.3148,"n":42.6},{"r":"g","c":"2.0","s":"dash","t":0.54,"n":44.2},{"r":"g","c":"2.0","s":"dash","t":2.73,"n":44.2},{"r":"g","c":"2.0","s":"dash","t":23.66,"n":45.2},{"r":"g","c":"2.0","s":"dash","t":205,"n":45.2},{"r":"g","c":"2.0","s":"dash","t":1777,"n":46.8},{"r":"g","c":"2.0","s":"dash","t":10000,"n":48.4},
{"r":"g","c":"2.0","s":"g","t":1.428,"n":0.3},{"r":"g","c":"2.0","s":"g","t":1.974,"n":0.35},{"r":"g","c":"2.0","s":"g","t":2.73,"n":0.44},{"r":"g","c":"2.0","s":"g","t":3.774,"n":0.52},{"r":"g","c":"2.0","s":"g","t":5.813,"n":0.62},{"r":"g","c":"2.0","s":"g","t":9.97,"n":0.74},{"r":"g","c":"2.0","s":"g","t":19.06,"n":0.88},{"r":"g","c":"2.0","s":"g","t":40.6,"n":1.11},{"r":"g","c":"2.0","s":"g","t":69.7,"n":1.4},{"r":"g","c":"2.0","s":"g","t":119.5,"n":1.67},{"r":"g","c":"2.0","s":"g","t":205,"n":2.11},{"r":"g","c":"2.0","s":"g","t":351.8,"n":2.67},{"r":"g","c":"2.0","s":"g","t":604,"n":3.18},{"r":"g","c":"2.0","s":"g","t":1777,"n":4.52},{"r":"g","c":"2.0","s":"g","t":5231,"n":6.05},{"r":"g","c":"2.0","s":"g","t":10000,"n":6.8},
{"r":"g","c":"2.0","s":"A","t":3.209,"n":0.3},{"r":"g","c":"2.0","s":"A","t":4.684,"n":0.35},{"r":"g","c":"2.0","s":"A","t":6.476,"n":0.41},{"r":"g","c":"2.0","s":"A","t":9.97,"n":0.55},{"r":"g","c":"2.0","s":"A","t":17.12,"n":0.66},{"r":"g","c":"2.0","s":"A","t":29.37,"n":0.74},{"r":"g","c":"2.0","s":"A","t":50.4,"n":0.93},{"r":"g","c":"2.0","s":"A","t":86.4,"n":1.11},{"r":"g","c":"2.0","s":"A","t":205,"n":1.32},{"r":"g","c":"2.0","s":"A","t":604,"n":1.49},{"r":"g","c":"2.0","s":"A","t":1777,"n":1.52},{"r":"g","c":"2.0","s":"A","t":10000,"n":1.53},
{"r":"g","c":"2.0","s":"b","t":18.66,"n":0.3},{"r":"g","c":"2.0","s":"b","t":23.66,"n":0.41},{"r":"g","c":"2.0","s":"b","t":40.6,"n":0.78},{"r":"g","c":"2.0","s":"b","t":69.7,"n":1.11},{"r":"g","c":"2.0","s":"b","t":119.5,"n":1.67},{"r":"g","c":"2.0","s":"b","t":205,"n":2.67},{"r":"g","c":"2.0","s":"b","t":351.8,"n":3.79},{"r":"g","c":"2.0","s":"b","t":604,"n":5.4},{"r":"g","c":"2.0","s":"b","t":1777,"n":7.2},{"r":"g","c":"2.0","s":"b","t":10000,"n":8.1},
{"r":"g","c":"2.0","s":"c","t":15.7,"n":0.3},{"r":"g","c":"2.0","s":"c","t":23.66,"n":0.49},{"r":"g","c":"2.0","s":"c","t":40.6,"n":0.7},{"r":"g","c":"2.0","s":"c","t":69.7,"n":1.0},{"r":"g","c":"2.0","s":"c","t":119.5,"n":1.32},{"r":"g","c":"2.0","s":"c","t":205,"n":1.88},{"r":"g","c":"2.0","s":"c","t":351.8,"n":2.83},{"r":"g","c":"2.0","s":"c","t":604,"n":3.79},{"r":"g","c":"2.0","s":"c","t":1777,"n":5.4},{"r":"g","c":"2.0","s":"c","t":5231,"n":6.8},{"r":"g","c":"2.0","s":"c","t":10000,"n":7.4},
{"r":"g","c":"2.0","s":"f","t":62.5,"n":0.3},{"r":"g","c":"2.0","s":"f","t":86.4,"n":0.46},{"r":"g","c":"2.0","s":"f","t":119.5,"n":0.52},{"r":"g","c":"2.0","s":"f","t":205,"n":0.66},{"r":"g","c":"2.0","s":"f","t":351.8,"n":1.11},{"r":"g","c":"2.0","s":"f","t":604,"n":1.88},{"r":"g","c":"2.0","s":"f","t":1036,"n":2.67},{"r":"g","c":"2.0","s":"f","t":1777,"n":3.57},{"r":"g","c":"2.0","s":"f","t":5231,"n":4.79},{"r":"g","c":"2.0","s":"f","t":10000,"n":5.5},
{"r":"g","c":"2.0","s":"e","t":69.7,"n":0.3},{"r":"g","c":"2.0","s":"e","t":119.5,"n":0.58},{"r":"g","c":"2.0","s":"e","t":205,"n":1.0},{"r":"g","c":"2.0","s":"e","t":351.8,"n":1.67},{"r":"g","c":"2.0","s":"e","t":604,"n":2.11},{"r":"g","c":"2.0","s":"e","t":1036,"n":2.67},{"r":"g","c":"2.0","s":"e","t":1777,"n":3.37},{"r":"g","c":"2.0","s":"e","t":5231,"n":4.52},{"r":"g","c":"2.0","s":"e","t":10000,"n":5.2},
{"r":"g","c":"2.0","s":"d","t":96.3,"n":0.3},{"r":"g","c":"2.0","s":"d","t":148.3,"n":0.58},{"r":"g","c":"2.0","s":"d","t":254.4,"n":1.18},{"r":"g","c":"2.0","s":"d","t":436.6,"n":1.58},{"r":"g","c":"2.0","s":"d","t":1036,"n":2.11},{"r":"g","c":"2.0","s":"d","t":3050,"n":3.0},{"r":"g","c":"2.0","s":"d","t":10000,"n":3.65},
{"r":"g","c":"2.0","s":"h","t":1036,"n":0.3},{"r":"g","c":"2.0","s":"h","t":1777,"n":0.41},{"r":"g","c":"2.0","s":"h","t":3050,"n":0.46},{"r":"g","c":"2.0","s":"h","t":5231,"n":0.58},{"r":"g","c":"2.0","s":"h","t":10000,"n":0.83}
]
},
"columns": 3,
"spacing": {"row": 20, "column": 35},
"bounds": "flush",
"concat": [
{"width":332,"height":197,"title":{"text":"v̂∞ =0.0"},
 "layer":[
  {"data":{"name":"lines"},"transform":[{"filter":"datum.r=='e' && datum.c=='0.0'"}],"mark":{"type":"line","clip":true},
   "encoding":{"x":{"field":"t","type":"quantitative","scale":{"type":"log","domain":[0.21,10000],"nice":false},"axis":null},
   "y":{"field":"n","type":"quantitative","scale":{"type":"log","domain":[0.3,300],"nice":false},"axis":{"orient":"left","values":[1,10,100],"labelPadding":5,"format":"d","title":"Cumulative N (%)","titlePadding":12}},
   "color":{"field":"s","type":"nominal","scale":{"domain":["A","b","c","d","e","f","g","h","tot","dash"],"range":["#000000","#800080","#ff0000","#ffa500","#a52a2a","#228b22","#1e90ff","#00ffff","#000000","#000000"]},"legend":null},
   "strokeDash":{"field":"s","type":"nominal","scale":{"domain":["A","b","c","d","e","f","g","h","tot","dash"],"range":[[1,0],[1,0],[1,0],[1,0],[1,0],[1,0],[1,0],[1,0],[1.5,4],[9,6]]},"legend":null},
   "strokeWidth":{"condition":[{"test":"datum.s===datum.r","value":5},{"test":"datum.s==='tot'","value":1.4}],"value":1.8}}},
  {"data":{"name":"notes"},"transform":[{"filter":"datum.r=='e'"}],"mark":{"type":"text","font":"DejaVu Sans Mono","fontSize":16,"baseline":"middle","align":"center"},
   "encoding":{"x":{"field":"t","type":"quantitative","axis":null},"y":{"field":"n","type":"quantitative","axis":null},"text":{"field":"lab"},
   "color":{"field":"s","type":"nominal","scale":{"domain":["A","b","c","d","e","f","g","h","tot","dash"],"range":["#000000","#800080","#ff0000","#ffa500","#a52a2a","#228b22","#1e90ff","#00ffff","#000000","#000000"]},"legend":null}}},
  {"data":{"name":"xM"},"mark":{"type":"tick","orient":"vertical","size":8,"thickness":1.2,"yOffset":-4,"color":"black","opacity":1},"encoding":{"x":{"field":"v","type":"quantitative","axis":null},"y":{"datum":0.3,"type":"quantitative","axis":null}}},
  {"data":{"name":"xm"},"mark":{"type":"tick","orient":"vertical","size":4,"thickness":1,"yOffset":-2,"color":"black","opacity":1},"encoding":{"x":{"field":"v","type":"quantitative","axis":null},"y":{"datum":0.3,"type":"quantitative","axis":null}}},
  {"data":{"name":"xM"},"mark":{"type":"tick","orient":"vertical","size":8,"thickness":1.2,"yOffset":4,"color":"black","opacity":1},"encoding":{"x":{"field":"v","type":"quantitative","axis":null},"y":{"datum":300,"type":"quantitative","axis":null}}},
  {"data":{"name":"xm"},"mark":{"type":"tick","orient":"vertical","size":4,"thickness":1,"yOffset":2,"color":"black","opacity":1},"encoding":{"x":{"field":"v","type":"quantitative","axis":null},"y":{"datum":300,"type":"quantitative","axis":null}}},
  {"data":{"name":"yM"},"mark":{"type":"tick","orient":"horizontal","size":8,"thickness":1.2,"xOffset":4,"color":"black","opacity":1},"encoding":{"y":{"field":"v","type":"quantitative","axis":null},"x":{"datum":0.21,"type":"quantitative","axis":null}}},
  {"data":{"name":"ym"},"mark":{"type":"tick","orient":"horizontal","size":4,"thickness":1,"xOffset":2,"color":"black","opacity":1},"encoding":{"y":{"field":"v","type":"quantitative","axis":null},"x":{"datum":0.21,"type":"quantitative","axis":null}}},
  {"data":{"name":"yM"},"mark":{"type":"tick","orient":"horizontal","size":8,"thickness":1.2,"xOffset":-4,"color":"black","opacity":1},"encoding":{"y":{"field":"v","type":"quantitative","axis":null},"x":{"datum":10000,"type":"quantitative","axis":null}}},
  {"data":{"name":"ym"},"mark":{"type":"tick","orient":"horizontal","size":4,"thickness":1,"xOffset":-2,"color":"black","opacity":1},"encoding":{"y":{"field":"v","type":"quantitative","axis":null},"x":{"datum":10000,"type":"quantitative","axis":null}}}
 ],
 "resolve":{"axis":{"x":"independent","y":"independent"}}},

{"width":332,"height":197,"title":{"text":"v̂∞ =0.5"},
 "layer":[
  {"data":{"name":"lines"},"transform":[{"filter":"datum.r=='e' && datum.c=='0.5'"}],"mark":{"type":"line","clip":true},
   "encoding":{"x":{"field":"t","type":"quantitative","scale":{"type":"log","domain":[0.21,10000],"nice":false},"axis":null},
   "y":{"field":"n","type":"quantitative","scale":{"type":"log","domain":[0.3,300],"nice":false},"axis":null},
   "color":{"field":"s","type":"nominal","scale":{"domain":["A","b","c","d","e","f","g","h","tot","dash"],"range":["#000000","#800080","#ff0000","#ffa500","#a52a2a","#228b22","#1e90ff","#00ffff","#000000","#000000"]},"legend":null},
   "strokeDash":{"field":"s","type":"nominal","scale":{"domain":["A","b","c","d","e","f","g","h","tot","dash"],"range":[[1,0],[1,0],[1,0],[1,0],[1,0],[1,0],[1,0],[1,0],[1.5,4],[9,6]]},"legend":null},
   "strokeWidth":{"condition":[{"test":"datum.s===datum.r","value":5},{"test":"datum.s==='tot'","value":1.4}],"value":1.8}}},
  {"data":{"name":"notes"},"transform":[{"filter":"datum.r=='e'"}],"mark":{"type":"text","font":"DejaVu Sans Mono","fontSize":16,"baseline":"middle","align":"center"},
   "encoding":{"x":{"field":"t","type":"quantitative","axis":null},"y":{"field":"n","type":"quantitative","axis":null},"text":{"field":"lab"},
   "color":{"field":"s","type":"nominal","scale":{"domain":["A","b","c","d","e","f","g","h","tot","dash"],"range":["#000000","#800080","#ff0000","#ffa500","#a52a2a","#228b22","#1e90ff","#00ffff","#000000","#000000"]},"legend":null}}},
  {"data":{"name":"xM"},"mark":{"type":"tick","orient":"vertical","size":8,"thickness":1.2,"yOffset":-4,"color":"black","opacity":1},"encoding":{"x":{"field":"v","type":"quantitative","axis":null},"y":{"datum":0.3,"type":"quantitative","axis":null}}},
  {"data":{"name":"xm"},"mark":{"type":"tick","orient":"vertical","size":4,"thickness":1,"yOffset":-2,"color":"black","opacity":1},"encoding":{"x":{"field":"v","type":"quantitative","axis":null},"y":{"datum":0.3,"type":"quantitative","axis":null}}},
  {"data":{"name":"xM"},"mark":{"type":"tick","orient":"vertical","size":8,"thickness":1.2,"yOffset":4,"color":"black","opacity":1},"encoding":{"x":{"field":"v","type":"quantitative","axis":null},"y":{"datum":300,"type":"quantitative","axis":null}}},
  {"data":{"name":"xm"},"mark":{"type":"tick","orient":"vertical","size":4,"thickness":1,"yOffset":2,"color":"black","opacity":1},"encoding":{"x":{"field":"v","type":"quantitative","axis":null},"y":{"datum":300,"type":"quantitative","axis":null}}},
  {"data":{"name":"yM"},"mark":{"type":"tick","orient":"horizontal","size":8,"thickness":1.2,"xOffset":4,"color":"black","opacity":1},"encoding":{"y":{"field":"v","type":"quantitative","axis":null},"x":{"datum":0.21,"type":"quantitative","axis":null}}},
  {"data":{"name":"ym"},"mark":{"type":"tick","orient":"horizontal","size":4,"thickness":1,"xOffset":2,"color":"black","opacity":1},"encoding":{"y":{"field":"v","type":"quantitative","axis":null},"x":{"datum":0.21,"type":"quantitative","axis":null}}},
  {"data":{"name":"yM"},"mark":{"type":"tick","orient":"horizontal","size":8,"thickness":1.2,"xOffset":-4,"color":"black","opacity":1},"encoding":{"y":{"field":"v","type":"quantitative","axis":null},"x":{"datum":10000,"type":"quantitative","axis":null}}},
  {"data":{"name":"ym"},"mark":{"type":"tick","orient":"horizontal","size":4,"thickness":1,"xOffset":-2,"color":"black","opacity":1},"encoding":{"y":{"field":"v","type":"quantitative","axis":null},"x":{"datum":10000,"type":"quantitative","axis":null}}}
 ],
 "resolve":{"axis":{"x":"independent","y":"independent"}}},

{"width":332,"height":197,"title":{"text":"v̂∞ =2.0"},
 "layer":[
  {"data":{"name":"lines"},"transform":[{"filter":"datum.r=='e' && datum.c=='2.0'"}],"mark":{"type":"line","clip":true},
   "encoding":{"x":{"field":"t","type":"quantitative","scale":{"type":"log","domain":[0.21,10000],"nice":false},"axis":null},
   "y":{"field":"n","type":"quantitative","scale":{"type":"log","domain":[0.3,300],"nice":false},"axis":null},
   "color":{"field":"s","type":"nominal","scale":{"domain":["A","b","c","d","e","f","g","h","tot","dash"],"range":["#000000","#800080","#ff0000","#ffa500","#a52a2a","#228b22","#1e90ff","#00ffff","#000000","#000000"]},"legend":null},
   "strokeDash":{"field":"s","type":"nominal","scale":{"domain":["A","b","c","d","e","f","g","h","tot","dash"],"range":[[1,0],[1,0],[1,0],[1,0],[1,0],[1,0],[1,0],[1,0],[1.5,4],[9,6]]},"legend":null},
   "strokeWidth":{"condition":[{"test":"datum.s===datum.r","value":5},{"test":"datum.s==='tot'","value":1.4}],"value":1.8}}},
  {"data":{"name":"notes"},"transform":[{"filter":"datum.r=='e'"}],"mark":{"type":"text","font":"DejaVu Sans Mono","fontSize":16,"baseline":"middle","align":"center"},
   "encoding":{"x":{"field":"t","type":"quantitative","axis":null},"y":{"field":"n","type":"quantitative","axis":null},"text":{"field":"lab"},
   "color":{"field":"s","type":"nominal","scale":{"domain":["A","b","c","d","e","f","g","h","tot","dash"],"range":["#000000","#800080","#ff0000","#ffa500","#a52a2a","#228b22","#1e90ff","#00ffff","#000000","#000000"]},"legend":null}}},
  {"data":{"name":"xM"},"mark":{"type":"tick","orient":"vertical","size":8,"thickness":1.2,"yOffset":-4,"color":"black","opacity":1},"encoding":{"x":{"field":"v","type":"quantitative","axis":null},"y":{"datum":0.3,"type":"quantitative","axis":null}}},
  {"data":{"name":"xm"},"mark":{"type":"tick","orient":"vertical","size":4,"thickness":1,"yOffset":-2,"color":"black","opacity":1},"encoding":{"x":{"field":"v","type":"quantitative","axis":null},"y":{"datum":0.3,"type":"quantitative","axis":null}}},
  {"data":{"name":"xM"},"mark":{"type":"tick","orient":"vertical","size":8,"thickness":1.2,"yOffset":4,"color":"black","opacity":1},"encoding":{"x":{"field":"v","type":"quantitative","axis":null},"y":{"datum":300,"type":"quantitative","axis":null}}},
  {"data":{"name":"xm"},"mark":{"type":"tick","orient":"vertical","size":4,"thickness":1,"yOffset":2,"color":"black","opacity":1},"encoding":{"x":{"field":"v","type":"quantitative","axis":null},"y":{"datum":300,"type":"quantitative","axis":null}}},
  {"data":{"name":"yM"},"mark":{"type":"tick","orient":"horizontal","size":8,"thickness":1.2,"xOffset":4,"color":"black","opacity":1},"encoding":{"y":{"field":"v","type":"quantitative","axis":null},"x":{"datum":0.21,"type":"quantitative","axis":null}}},
  {"data":{"name":"ym"},"mark":{"type":"tick","orient":"horizontal","size":4,"thickness":1,"xOffset":2,"color":"black","opacity":1},"encoding":{"y":{"field":"v","type":"quantitative","axis":null},"x":{"datum":0.21,"type":"quantitative","axis":null}}},
  {"data":{"name":"yM"},"mark":{"type":"tick","orient":"horizontal","size":8,"thickness":1.2,"xOffset":-4,"color":"black","opacity":1},"encoding":{"y":{"field":"v","type":"quantitative","axis":null},"x":{"datum":10000,"type":"quantitative","axis":null}}},
  {"data":{"name":"ym"},"mark":{"type":"tick","orient":"horizontal","size":4,"thickness":1,"xOffset":-2,"color":"black","opacity":1},"encoding":{"y":{"field":"v","type":"quantitative","axis":null},"x":{"datum":10000,"type":"quantitative","axis":null}}}
 ],
 "resolve":{"axis":{"x":"independent","y":"independent"}}},

{"width":332,"height":197,
 "layer":[
  {"data":{"name":"lines"},"transform":[{"filter":"datum.r=='f' && datum.c=='0.0'"}],"mark":{"type":"line","clip":true},
   "encoding":{"x":{"field":"t","type":"quantitative","scale":{"type":"log","domain":[0.21,10000],"nice":false},"axis":null},
   "y":{"field":"n","type":"quantitative","scale":{"type":"log","domain":[0.3,300],"nice":false},"axis":{"orient":"left","values":[1,10,100],"labelPadding":5,"format":"d","title":"Cumulative N (%)","titlePadding":12}},
   "color":{"field":"s","type":"nominal","scale":{"domain":["A","b","c","d","e","f","g","h","tot","dash"],"range":["#000000","#800080","#ff0000","#ffa500","#a52a2a","#228b22","#1e90ff","#00ffff","#000000","#000000"]},"legend":null},
   "strokeDash":{"field":"s","type":"nominal","scale":{"domain":["A","b","c","d","e","f","g","h","tot","dash"],"range":[[1,0],[1,0],[1,0],[1,0],[1,0],[1,0],[1,0],[1,0],[1.5,4],[9,6]]},"legend":null},
   "strokeWidth":{"condition":[{"test":"datum.s===datum.r","value":5},{"test":"datum.s==='tot'","value":1.4}],"value":1.8}}},
  {"data":{"name":"notes"},"transform":[{"filter":"datum.r=='f'"}],"mark":{"type":"text","font":"DejaVu Sans Mono","fontSize":16,"baseline":"middle","align":"center"},
   "encoding":{"x":{"field":"t","type":"quantitative","axis":null},"y":{"field":"n","type":"quantitative","axis":null},"text":{"field":"lab"},
   "color":{"field":"s","type":"nominal","scale":{"domain":["A","b","c","d","e","f","g","h","tot","dash"],"range":["#000000","#800080","#ff0000","#ffa500","#a52a2a","#228b22","#1e90ff","#00ffff","#000000","#000000"]},"legend":null}}},
  {"data":{"name":"xM"},"mark":{"type":"tick","orient":"vertical","size":8,"thickness":1.2,"yOffset":-4,"color":"black","opacity":1},"encoding":{"x":{"field":"v","type":"quantitative","axis":null},"y":{"datum":0.3,"type":"quantitative","axis":null}}},
  {"data":{"name":"xm"},"mark":{"type":"tick","orient":"vertical","size":4,"thickness":1,"yOffset":-2,"color":"black","opacity":1},"encoding":{"x":{"field":"v","type":"quantitative","axis":null},"y":{"datum":0.3,"type":"quantitative","axis":null}}},
  {"data":{"name":"xM"},"mark":{"type":"tick","orient":"vertical","size":8,"thickness":1.2,"yOffset":4,"color":"black","opacity":1},"encoding":{"x":{"field":"v","type":"quantitative","axis":null},"y":{"datum":300,"type":"quantitative","axis":null}}},
  {"data":{"name":"xm"},"mark":{"type":"tick","orient":"vertical","size":4,"thickness":1,"yOffset":2,"color":"black","opacity":1},"encoding":{"x":{"field":"v","type":"quantitative","axis":null},"y":{"datum":300,"type":"quantitative","axis":null}}},
  {"data":{"name":"yM"},"mark":{"type":"tick","orient":"horizontal","size":8,"thickness":1.2,"xOffset":4,"color":"black","opacity":1},"encoding":{"y":{"field":"v","type":"quantitative","axis":null},"x":{"datum":0.21,"type":"quantitative","axis":null}}},
  {"data":{"name":"ym"},"mark":{"type":"tick","orient":"horizontal","size":4,"thickness":1,"xOffset":2,"color":"black","opacity":1},"encoding":{"y":{"field":"v","type":"quantitative","axis":null},"x":{"datum":0.21,"type":"quantitative","axis":null}}},
  {"data":{"name":"yM"},"mark":{"type":"tick","orient":"horizontal","size":8,"thickness":1.2,"xOffset":-4,"color":"black","opacity":1},"encoding":{"y":{"field":"v","type":"quantitative","axis":null},"x":{"datum":10000,"type":"quantitative","axis":null}}},
  {"data":{"name":"ym"},"mark":{"type":"tick","orient":"horizontal","size":4,"thickness":1,"xOffset":-2,"color":"black","opacity":1},"encoding":{"y":{"field":"v","type":"quantitative","axis":null},"x":{"datum":10000,"type":"quantitative","axis":null}}}
 ],
 "resolve":{"axis":{"x":"independent","y":"independent"}}},

{"width":332,"height":197,
 "layer":[
  {"data":{"name":"lines"},"transform":[{"filter":"datum.r=='f' && datum.c=='0.5'"}],"mark":{"type":"line","clip":true},
   "encoding":{"x":{"field":"t","type":"quantitative","scale":{"type":"log","domain":[0.21,10000],"nice":false},"axis":null},
   "y":{"field":"n","type":"quantitative","scale":{"type":"log","domain":[0.3,300],"nice":false},"axis":null},
   "color":{"field":"s","type":"nominal","scale":{"domain":["A","b","c","d","e","f","g","h","tot","dash"],"range":["#000000","#800080","#ff0000","#ffa500","#a52a2a","#228b22","#1e90ff","#00ffff","#000000","#000000"]},"legend":null},
   "strokeDash":{"field":"s","type":"nominal","scale":{"domain":["A","b","c","d","e","f","g","h","tot","dash"],"range":[[1,0],[1,0],[1,0],[1,0],[1,0],[1,0],[1,0],[1,0],[1.5,4],[9,6]]},"legend":null},
   "strokeWidth":{"condition":[{"test":"datum.s===datum.r","value":5},{"test":"datum.s==='tot'","value":1.4}],"value":1.8}}},
  {"data":{"name":"notes"},"transform":[{"filter":"datum.r=='f'"}],"mark":{"type":"text","font":"DejaVu Sans Mono","fontSize":16,"baseline":"middle","align":"center"},
   "encoding":{"x":{"field":"t","type":"quantitative","axis":null},"y":{"field":"n","type":"quantitative","axis":null},"text":{"field":"lab"},
   "color":{"field":"s","type":"nominal","scale":{"domain":["A","b","c","d","e","f","g","h","tot","dash"],"range":["#000000","#800080","#ff0000","#ffa500","#a52a2a","#228b22","#1e90ff","#00ffff","#000000","#000000"]},"legend":null}}},
  {"data":{"name":"xM"},"mark":{"type":"tick","orient":"vertical","size":8,"thickness":1.2,"yOffset":-4,"color":"black","opacity":1},"encoding":{"x":{"field":"v","type":"quantitative","axis":null},"y":{"datum":0.3,"type":"quantitative","axis":null}}},
  {"data":{"name":"xm"},"mark":{"type":"tick","orient":"vertical","size":4,"thickness":1,"yOffset":-2,"color":"black","opacity":1},"encoding":{"x":{"field":"v","type":"quantitative","axis":null},"y":{"datum":0.3,"type":"quantitative","axis":null}}},
  {"data":{"name":"xM"},"mark":{"type":"tick","orient":"vertical","size":8,"thickness":1.2,"yOffset":4,"color":"black","opacity":1},"encoding":{"x":{"field":"v","type":"quantitative","axis":null},"y":{"datum":300,"type":"quantitative","axis":null}}},
  {"data":{"name":"xm"},"mark":{"type":"tick","orient":"vertical","size":4,"thickness":1,"yOffset":2,"color":"black","opacity":1},"encoding":{"x":{"field":"v","type":"quantitative","axis":null},"y":{"datum":300,"type":"quantitative","axis":null}}},
  {"data":{"name":"yM"},"mark":{"type":"tick","orient":"horizontal","size":8,"thickness":1.2,"xOffset":4,"color":"black","opacity":1},"encoding":{"y":{"field":"v","type":"quantitative","axis":null},"x":{"datum":0.21,"type":"quantitative","axis":null}}},
  {"data":{"name":"ym"},"mark":{"type":"tick","orient":"horizontal","size":4,"thickness":1,"xOffset":2,"color":"black","opacity":1},"encoding":{"y":{"field":"v","type":"quantitative","axis":null},"x":{"datum":0.21,"type":"quantitative","axis":null}}},
  {"data":{"name":"yM"},"mark":{"type":"tick","orient":"horizontal","size":8,"thickness":1.2,"xOffset":-4,"color":"black","opacity":1},"encoding":{"y":{"field":"v","type":"quantitative","axis":null},"x":{"datum":10000,"type":"quantitative","axis":null}}},
  {"data":{"name":"ym"},"mark":{"type":"tick","orient":"horizontal","size":4,"thickness":1,"xOffset":-2,"color":"black","opacity":1},"encoding":{"y":{"field":"v","type":"quantitative","axis":null},"x":{"datum":10000,"type":"quantitative","axis":null}}}
 ],
 "resolve":{"axis":{"x":"independent","y":"independent"}}},

{"width":332,"height":197,
 "layer":[
  {"data":{"name":"lines"},"transform":[{"filter":"datum.r=='f' && datum.c=='2.0'"}],"mark":{"type":"line","clip":true},
   "encoding":{"x":{"field":"t","type":"quantitative","scale":{"type":"log","domain":[0.21,10000],"nice":false},"axis":null},
   "y":{"field":"n","type":"quantitative","scale":{"type":"log","domain":[0.3,300],"nice":false},"axis":null},
   "color":{"field":"s","type":"nominal","scale":{"domain":["A","b","c","d","e","f","g","h","tot","dash"],"range":["#000000","#800080","#ff0000","#ffa500","#a52a2a","#228b22","#1e90ff","#00ffff","#000000","#000000"]},"legend":null},
   "strokeDash":{"field":"s","type":"nominal","scale":{"domain":["A","b","c","d","e","f","g","h","tot","dash"],"range":[[1,0],[1,0],[1,0],[1,0],[1,0],[1,0],[1,0],[1,0],[1.5,4],[9,6]]},"legend":null},
   "strokeWidth":{"condition":[{"test":"datum.s===datum.r","value":5},{"test":"datum.s==='tot'","value":1.4}],"value":1.8}}},
  {"data":{"name":"notes"},"transform":[{"filter":"datum.r=='f'"}],"mark":{"type":"text","font":"DejaVu Sans Mono","fontSize":16,"baseline":"middle","align":"center"},
   "encoding":{"x":{"field":"t","type":"quantitative","axis":null},"y":{"field":"n","type":"quantitative","axis":null},"text":{"field":"lab"},
   "color":{"field":"s","type":"nominal","scale":{"domain":["A","b","c","d","e","f","g","h","tot","dash"],"range":["#000000","#800080","#ff0000","#ffa500","#a52a2a","#228b22","#1e90ff","#00ffff","#000000","#000000"]},"legend":null}}},
  {"data":{"name":"xM"},"mark":{"type":"tick","orient":"vertical","size":8,"thickness":1.2,"yOffset":-4,"color":"black","opacity":1},"encoding":{"x":{"field":"v","type":"quantitative","axis":null},"y":{"datum":0.3,"type":"quantitative","axis":null}}},
  {"data":{"name":"xm"},"mark":{"type":"tick","orient":"vertical","size":4,"thickness":1,"yOffset":-2,"color":"black","opacity":1},"encoding":{"x":{"field":"v","type":"quantitative","axis":null},"y":{"datum":0.3,"type":"quantitative","axis":null}}},
  {"data":{"name":"xM"},"mark":{"type":"tick","orient":"vertical","size":8,"thickness":1.2,"yOffset":4,"color":"black","opacity":1},"encoding":{"x":{"field":"v","type":"quantitative","axis":null},"y":{"datum":300,"type":"quantitative","axis":null}}},
  {"data":{"name":"xm"},"mark":{"type":"tick","orient":"vertical","size":4,"thickness":1,"yOffset":2,"color":"black","opacity":1},"encoding":{"x":{"field":"v","type":"quantitative","axis":null},"y":{"datum":300,"type":"quantitative","axis":null}}},
  {"data":{"name":"yM"},"mark":{"type":"tick","orient":"horizontal","size":8,"thickness":1.2,"xOffset":4,"color":"black","opacity":1},"encoding":{"y":{"field":"v","type":"quantitative","axis":null},"x":{"datum":0.21,"type":"quantitative","axis":null}}},
  {"data":{"name":"ym"},"mark":{"type":"tick","orient":"horizontal","size":4,"thickness":1,"xOffset":2,"color":"black","opacity":1},"encoding":{"y":{"field":"v","type":"quantitative","axis":null},"x":{"datum":0.21,"type":"quantitative","axis":null}}},
  {"data":{"name":"yM"},"mark":{"type":"tick","orient":"horizontal","size":8,"thickness":1.2,"xOffset":-4,"color":"black","opacity":1},"encoding":{"y":{"field":"v","type":"quantitative","axis":null},"x":{"datum":10000,"type":"quantitative","axis":null}}},
  {"data":{"name":"ym"},"mark":{"type":"tick","orient":"horizontal","size":4,"thickness":1,"xOffset":-2,"color":"black","opacity":1},"encoding":{"y":{"field":"v","type":"quantitative","axis":null},"x":{"datum":10000,"type":"quantitative","axis":null}}}
 ],
 "resolve":{"axis":{"x":"independent","y":"independent"}}},

{"width":332,"height":197,
 "layer":[
  {"data":{"name":"lines"},"transform":[{"filter":"datum.r=='g' && datum.c=='0.0'"}],"mark":{"type":"line","clip":true},
   "encoding":{"x":{"field":"t","type":"quantitative","scale":{"type":"log","domain":[0.21,10000],"nice":false},"axis":{"orient":"bottom","values":[1,10,100,1000,10000],"labelPadding":9,"labelExpr":"'10' + ['⁰','¹','²','³','⁴'][round(log(datum.value)/LN10)]","title":"t/yr","titlePadding":10}},
   "y":{"field":"n","type":"quantitative","scale":{"type":"log","domain":[0.3,300],"nice":false},"axis":{"orient":"left","values":[1,10,100],"labelPadding":5,"format":"d","title":"Cumulative N (%)","titlePadding":12}},
   "color":{"field":"s","type":"nominal","scale":{"domain":["A","b","c","d","e","f","g","h","tot","dash"],"range":["#000000","#800080","#ff0000","#ffa500","#a52a2a","#228b22","#1e90ff","#00ffff","#000000","#000000"]},"legend":null},
   "strokeDash":{"field":"s","type":"nominal","scale":{"domain":["A","b","c","d","e","f","g","h","tot","dash"],"range":[[1,0],[1,0],[1,0],[1,0],[1,0],[1,0],[1,0],[1,0],[1.5,4],[9,6]]},"legend":null},
   "strokeWidth":{"condition":[{"test":"datum.s===datum.r","value":5},{"test":"datum.s==='tot'","value":1.4}],"value":1.8}}},
  {"data":{"name":"notes"},"transform":[{"filter":"datum.r=='g'"}],"mark":{"type":"text","font":"DejaVu Sans Mono","fontSize":16,"baseline":"middle","align":"center"},
   "encoding":{"x":{"field":"t","type":"quantitative","axis":null},"y":{"field":"n","type":"quantitative","axis":null},"text":{"field":"lab"},
   "color":{"field":"s","type":"nominal","scale":{"domain":["A","b","c","d","e","f","g","h","tot","dash"],"range":["#000000","#800080","#ff0000","#ffa500","#a52a2a","#228b22","#1e90ff","#00ffff","#000000","#000000"]},"legend":null}}},
  {"data":{"name":"xM"},"mark":{"type":"tick","orient":"vertical","size":8,"thickness":1.2,"yOffset":-4,"color":"black","opacity":1},"encoding":{"x":{"field":"v","type":"quantitative","axis":null},"y":{"datum":0.3,"type":"quantitative","axis":null}}},
  {"data":{"name":"xm"},"mark":{"type":"tick","orient":"vertical","size":4,"thickness":1,"yOffset":-2,"color":"black","opacity":1},"encoding":{"x":{"field":"v","type":"quantitative","axis":null},"y":{"datum":0.3,"type":"quantitative","axis":null}}},
  {"data":{"name":"xM"},"mark":{"type":"tick","orient":"vertical","size":8,"thickness":1.2,"yOffset":4,"color":"black","opacity":1},"encoding":{"x":{"field":"v","type":"quantitative","axis":null},"y":{"datum":300,"type":"quantitative","axis":null}}},
  {"data":{"name":"xm"},"mark":{"type":"tick","orient":"vertical","size":4,"thickness":1,"yOffset":2,"color":"black","opacity":1},"encoding":{"x":{"field":"v","type":"quantitative","axis":null},"y":{"datum":300,"type":"quantitative","axis":null}}},
  {"data":{"name":"yM"},"mark":{"type":"tick","orient":"horizontal","size":8,"thickness":1.2,"xOffset":4,"color":"black","opacity":1},"encoding":{"y":{"field":"v","type":"quantitative","axis":null},"x":{"datum":0.21,"type":"quantitative","axis":null}}},
  {"data":{"name":"ym"},"mark":{"type":"tick","orient":"horizontal","size":4,"thickness":1,"xOffset":2,"color":"black","opacity":1},"encoding":{"y":{"field":"v","type":"quantitative","axis":null},"x":{"datum":0.21,"type":"quantitative","axis":null}}},
  {"data":{"name":"yM"},"mark":{"type":"tick","orient":"horizontal","size":8,"thickness":1.2,"xOffset":-4,"color":"black","opacity":1},"encoding":{"y":{"field":"v","type":"quantitative","axis":null},"x":{"datum":10000,"type":"quantitative","axis":null}}},
  {"data":{"name":"ym"},"mark":{"type":"tick","orient":"horizontal","size":4,"thickness":1,"xOffset":-2,"color":"black","opacity":1},"encoding":{"y":{"field":"v","type":"quantitative","axis":null},"x":{"datum":10000,"type":"quantitative","axis":null}}}
 ],
 "resolve":{"axis":{"x":"independent","y":"independent"}}},

{"width":332,"height":197,
 "layer":[
  {"data":{"name":"lines"},"transform":[{"filter":"datum.r=='g' && datum.c=='0.5'"}],"mark":{"type":"line","clip":true},
   "encoding":{"x":{"field":"t","type":"quantitative","scale":{"type":"log","domain":[0.21,10000],"nice":false},"axis":{"orient":"bottom","values":[1,10,100,1000,10000],"labelPadding":9,"labelExpr":"'10' + ['⁰','¹','²','³','⁴'][round(log(datum.value)/LN10)]","title":"t/yr","titlePadding":10}},
   "y":{"field":"n","type":"quantitative","scale":{"type":"log","domain":[0.3,300],"nice":false},"axis":null},
   "color":{"field":"s","type":"nominal","scale":{"domain":["A","b","c","d","e","f","g","h","tot","dash"],"range":["#000000","#800080","#ff0000","#ffa500","#a52a2a","#228b22","#1e90ff","#00ffff","#000000","#000000"]},"legend":null},
   "strokeDash":{"field":"s","type":"nominal","scale":{"domain":["A","b","c","d","e","f","g","h","tot","dash"],"range":[[1,0],[1,0],[1,0],[1,0],[1,0],[1,0],[1,0],[1,0],[1.5,4],[9,6]]},"legend":null},
   "strokeWidth":{"condition":[{"test":"datum.s===datum.r","value":5},{"test":"datum.s==='tot'","value":1.4}],"value":1.8}}},
  {"data":{"name":"notes"},"transform":[{"filter":"datum.r=='g'"}],"mark":{"type":"text","font":"DejaVu Sans Mono","fontSize":16,"baseline":"middle","align":"center"},
   "encoding":{"x":{"field":"t","type":"quantitative","axis":null},"y":{"field":"n","type":"quantitative","axis":null},"text":{"field":"lab"},
   "color":{"field":"s","type":"nominal","scale":{"domain":["A","b","c","d","e","f","g","h","tot","dash"],"range":["#000000","#800080","#ff0000","#ffa500","#a52a2a","#228b22","#1e90ff","#00ffff","#000000","#000000"]},"legend":null}}},
  {"data":{"name":"xM"},"mark":{"type":"tick","orient":"vertical","size":8,"thickness":1.2,"yOffset":-4,"color":"black","opacity":1},"encoding":{"x":{"field":"v","type":"quantitative","axis":null},"y":{"datum":0.3,"type":"quantitative","axis":null}}},
  {"data":{"name":"xm"},"mark":{"type":"tick","orient":"vertical","size":4,"thickness":1,"yOffset":-2,"color":"black","opacity":1},"encoding":{"x":{"field":"v","type":"quantitative","axis":null},"y":{"datum":0.3,"type":"quantitative","axis":null}}},
  {"data":{"name":"xM"},"mark":{"type":"tick","orient":"vertical","size":8,"thickness":1.2,"yOffset":4,"color":"black","opacity":1},"encoding":{"x":{"field":"v","type":"quantitative","axis":null},"y":{"datum":300,"type":"quantitative","axis":null}}},
  {"data":{"name":"xm"},"mark":{"type":"tick","orient":"vertical","size":4,"thickness":1,"yOffset":2,"color":"black","opacity":1},"encoding":{"x":{"field":"v","type":"quantitative","axis":null},"y":{"datum":300,"type":"quantitative","axis":null}}},
  {"data":{"name":"yM"},"mark":{"type":"tick","orient":"horizontal","size":8,"thickness":1.2,"xOffset":4,"color":"black","opacity":1},"encoding":{"y":{"field":"v","type":"quantitative","axis":null},"x":{"datum":0.21,"type":"quantitative","axis":null}}},
  {"data":{"name":"ym"},"mark":{"type":"tick","orient":"horizontal","size":4,"thickness":1,"xOffset":2,"color":"black","opacity":1},"encoding":{"y":{"field":"v","type":"quantitative","axis":null},"x":{"datum":0.21,"type":"quantitative","axis":null}}},
  {"data":{"name":"yM"},"mark":{"type":"tick","orient":"horizontal","size":8,"thickness":1.2,"xOffset":-4,"color":"black","opacity":1},"encoding":{"y":{"field":"v","type":"quantitative","axis":null},"x":{"datum":10000,"type":"quantitative","axis":null}}},
  {"data":{"name":"ym"},"mark":{"type":"tick","orient":"horizontal","size":4,"thickness":1,"xOffset":-2,"color":"black","opacity":1},"encoding":{"y":{"field":"v","type":"quantitative","axis":null},"x":{"datum":10000,"type":"quantitative","axis":null}}}
 ],
 "resolve":{"axis":{"x":"independent","y":"independent"}}},

{"width":332,"height":197,
 "layer":[
  {"data":{"name":"lines"},"transform":[{"filter":"datum.r=='g' && datum.c=='2.0'"}],"mark":{"type":"line","clip":true},
   "encoding":{"x":{"field":"t","type":"quantitative","scale":{"type":"log","domain":[0.21,10000],"nice":false},"axis":{"orient":"bottom","values":[1,10,100,1000,10000],"labelPadding":9,"labelExpr":"'10' + ['⁰','¹','²','³','⁴'][round(log(datum.value)/LN10)]","title":"t/yr","titlePadding":10}},
   "y":{"field":"n","type":"quantitative","scale":{"type":"log","domain":[0.3,300],"nice":false},"axis":null},
   "color":{"field":"s","type":"nominal","scale":{"domain":["A","b","c","d","e","f","g","h","tot","dash"],"range":["#000000","#800080","#ff0000","#ffa500","#a52a2a","#228b22","#1e90ff","#00ffff","#000000","#000000"]},"legend":null},
   "strokeDash":{"field":"s","type":"nominal","scale":{"domain":["A","b","c","d","e","f","g","h","tot","dash"],"range":[[1,0],[1,0],[1,0],[1,0],[1,0],[1,0],[1,0],[1,0],[1.5,4],[9,6]]},"legend":null},
   "strokeWidth":{"condition":[{"test":"datum.s===datum.r","value":5},{"test":"datum.s==='tot'","value":1.4}],"value":1.8}}},
  {"data":{"name":"notes"},"transform":[{"filter":"datum.r=='g'"}],"mark":{"type":"text","font":"DejaVu Sans Mono","fontSize":16,"baseline":"middle","align":"center"},
   "encoding":{"x":{"field":"t","type":"quantitative","axis":null},"y":{"field":"n","type":"quantitative","axis":null},"text":{"field":"lab"},
   "color":{"field":"s","type":"nominal","scale":{"domain":["A","b","c","d","e","f","g","h","tot","dash"],"range":["#000000","#800080","#ff0000","#ffa500","#a52a2a","#228b22","#1e90ff","#00ffff","#000000","#000000"]},"legend":null}}},
  {"data":{"name":"xM"},"mark":{"type":"tick","orient":"vertical","size":8,"thickness":1.2,"yOffset":-4,"color":"black","opacity":1},"encoding":{"x":{"field":"v","type":"quantitative","axis":null},"y":{"datum":0.3,"type":"quantitative","axis":null}}},
  {"data":{"name":"xm"},"mark":{"type":"tick","orient":"vertical","size":4,"thickness":1,"yOffset":-2,"color":"black","opacity":1},"encoding":{"x":{"field":"v","type":"quantitative","axis":null},"y":{"datum":0.3,"type":"quantitative","axis":null}}},
  {"data":{"name":"xM"},"mark":{"type":"tick","orient":"vertical","size":8,"thickness":1.2,"yOffset":4,"color":"black","opacity":1},"encoding":{"x":{"field":"v","type":"quantitative","axis":null},"y":{"datum":300,"type":"quantitative","axis":null}}},
  {"data":{"name":"xm"},"mark":{"type":"tick","orient":"vertical","size":4,"thickness":1,"yOffset":2,"color":"black","opacity":1},"encoding":{"x":{"field":"v","type":"quantitative","axis":null},"y":{"datum":300,"type":"quantitative","axis":null}}},
  {"data":{"name":"yM"},"mark":{"type":"tick","orient":"horizontal","size":8,"thickness":1.2,"xOffset":4,"color":"black","opacity":1},"encoding":{"y":{"field":"v","type":"quantitative","axis":null},"x":{"datum":0.21,"type":"quantitative","axis":null}}},
  {"data":{"name":"ym"},"mark":{"type":"tick","orient":"horizontal","size":4,"thickness":1,"xOffset":2,"color":"black","opacity":1},"encoding":{"y":{"field":"v","type":"quantitative","axis":null},"x":{"datum":0.21,"type":"quantitative","axis":null}}},
  {"data":{"name":"yM"},"mark":{"type":"tick","orient":"horizontal","size":8,"thickness":1.2,"xOffset":-4,"color":"black","opacity":1},"encoding":{"y":{"field":"v","type":"quantitative","axis":null},"x":{"datum":10000,"type":"quantitative","axis":null}}},
  {"data":{"name":"ym"},"mark":{"type":"tick","orient":"horizontal","size":4,"thickness":1,"xOffset":-2,"color":"black","opacity":1},"encoding":{"y":{"field":"v","type":"quantitative","axis":null},"x":{"datum":10000,"type":"quantitative","axis":null}}}
 ],
 "resolve":{"axis":{"x":"independent","y":"independent"}}}
]
}
